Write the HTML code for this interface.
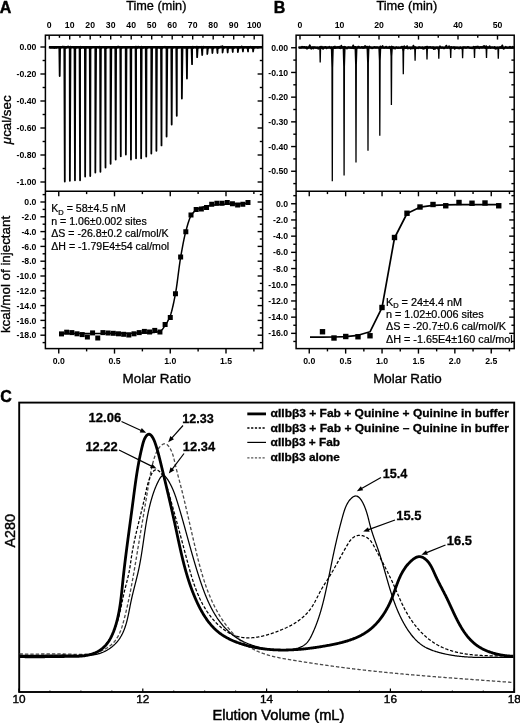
<!DOCTYPE html>
<html><head><meta charset="utf-8"><title>Figure</title>
<style>
html,body{margin:0;padding:0;background:#fff;}
body{width:520px;height:723px;overflow:hidden;}
svg{display:block;font-family:'Liberation Sans', Arial, Helvetica, sans-serif;}
</style></head><body>
<svg width="520" height="723" viewBox="0 0 520 723">
<rect width="520" height="723" fill="#fff"/>
<rect x="45.4" y="35.2" width="217.2" height="313.4" fill="none" stroke="#000" stroke-width="1.5"/>
<line x1="45.4" y1="191.3" x2="262.6" y2="191.3" stroke="#000" stroke-width="1.5" />
<rect x="296.1" y="35.2" width="218.1" height="313.4" fill="none" stroke="#000" stroke-width="1.5"/>
<line x1="296.1" y1="191.3" x2="514.2" y2="191.3" stroke="#000" stroke-width="1.5" />
<line x1="49.2" y1="35.2" x2="49.2" y2="39.6" stroke="#000" stroke-width="1.4" />
<text x="49.2" y="28.3" font-size="8.7" text-anchor="middle" font-weight="bold" >0</text>
<line x1="59.45" y1="35.2" x2="59.45" y2="37.8" stroke="#000" stroke-width="1.4" />
<line x1="69.7" y1="35.2" x2="69.7" y2="39.6" stroke="#000" stroke-width="1.4" />
<text x="69.7" y="28.3" font-size="8.7" text-anchor="middle" font-weight="bold" >10</text>
<line x1="79.95" y1="35.2" x2="79.95" y2="37.8" stroke="#000" stroke-width="1.4" />
<line x1="90.2" y1="35.2" x2="90.2" y2="39.6" stroke="#000" stroke-width="1.4" />
<text x="90.2" y="28.3" font-size="8.7" text-anchor="middle" font-weight="bold" >20</text>
<line x1="100.45" y1="35.2" x2="100.45" y2="37.8" stroke="#000" stroke-width="1.4" />
<line x1="110.7" y1="35.2" x2="110.7" y2="39.6" stroke="#000" stroke-width="1.4" />
<text x="110.7" y="28.3" font-size="8.7" text-anchor="middle" font-weight="bold" >30</text>
<line x1="120.95" y1="35.2" x2="120.95" y2="37.8" stroke="#000" stroke-width="1.4" />
<line x1="131.2" y1="35.2" x2="131.2" y2="39.6" stroke="#000" stroke-width="1.4" />
<text x="131.2" y="28.3" font-size="8.7" text-anchor="middle" font-weight="bold" >40</text>
<line x1="141.45" y1="35.2" x2="141.45" y2="37.8" stroke="#000" stroke-width="1.4" />
<line x1="151.7" y1="35.2" x2="151.7" y2="39.6" stroke="#000" stroke-width="1.4" />
<text x="151.7" y="28.3" font-size="8.7" text-anchor="middle" font-weight="bold" >50</text>
<line x1="161.95" y1="35.2" x2="161.95" y2="37.8" stroke="#000" stroke-width="1.4" />
<line x1="172.2" y1="35.2" x2="172.2" y2="39.6" stroke="#000" stroke-width="1.4" />
<text x="172.2" y="28.3" font-size="8.7" text-anchor="middle" font-weight="bold" >60</text>
<line x1="182.45" y1="35.2" x2="182.45" y2="37.8" stroke="#000" stroke-width="1.4" />
<line x1="192.7" y1="35.2" x2="192.7" y2="39.6" stroke="#000" stroke-width="1.4" />
<text x="192.7" y="28.3" font-size="8.7" text-anchor="middle" font-weight="bold" >70</text>
<line x1="202.95" y1="35.2" x2="202.95" y2="37.8" stroke="#000" stroke-width="1.4" />
<line x1="213.2" y1="35.2" x2="213.2" y2="39.6" stroke="#000" stroke-width="1.4" />
<text x="213.2" y="28.3" font-size="8.7" text-anchor="middle" font-weight="bold" >80</text>
<line x1="223.45" y1="35.2" x2="223.45" y2="37.8" stroke="#000" stroke-width="1.4" />
<line x1="233.7" y1="35.2" x2="233.7" y2="39.6" stroke="#000" stroke-width="1.4" />
<text x="233.7" y="28.3" font-size="8.7" text-anchor="middle" font-weight="bold" >90</text>
<line x1="243.95" y1="35.2" x2="243.95" y2="37.8" stroke="#000" stroke-width="1.4" />
<line x1="254.2" y1="35.2" x2="254.2" y2="39.6" stroke="#000" stroke-width="1.4" />
<text x="254.2" y="28.3" font-size="8.7" text-anchor="middle" font-weight="bold" >100</text>
<line x1="40.4" y1="47" x2="45.4" y2="47" stroke="#000" stroke-width="1.4" />
<line x1="257.6" y1="47" x2="262.6" y2="47" stroke="#000" stroke-width="1.4" />
<text x="36.4" y="50.1" font-size="8.7" text-anchor="end" font-weight="bold" >0.00</text>
<line x1="42.6" y1="60.5" x2="45.4" y2="60.5" stroke="#000" stroke-width="1.4" />
<line x1="259.8" y1="60.5" x2="262.6" y2="60.5" stroke="#000" stroke-width="1.4" />
<line x1="40.4" y1="74" x2="45.4" y2="74" stroke="#000" stroke-width="1.4" />
<line x1="257.6" y1="74" x2="262.6" y2="74" stroke="#000" stroke-width="1.4" />
<text x="36.4" y="77.1" font-size="8.7" text-anchor="end" font-weight="bold" >-0.20</text>
<line x1="42.6" y1="87.5" x2="45.4" y2="87.5" stroke="#000" stroke-width="1.4" />
<line x1="259.8" y1="87.5" x2="262.6" y2="87.5" stroke="#000" stroke-width="1.4" />
<line x1="40.4" y1="101" x2="45.4" y2="101" stroke="#000" stroke-width="1.4" />
<line x1="257.6" y1="101" x2="262.6" y2="101" stroke="#000" stroke-width="1.4" />
<text x="36.4" y="104.1" font-size="8.7" text-anchor="end" font-weight="bold" >-0.40</text>
<line x1="42.6" y1="114.5" x2="45.4" y2="114.5" stroke="#000" stroke-width="1.4" />
<line x1="259.8" y1="114.5" x2="262.6" y2="114.5" stroke="#000" stroke-width="1.4" />
<line x1="40.4" y1="128" x2="45.4" y2="128" stroke="#000" stroke-width="1.4" />
<line x1="257.6" y1="128" x2="262.6" y2="128" stroke="#000" stroke-width="1.4" />
<text x="36.4" y="131.1" font-size="8.7" text-anchor="end" font-weight="bold" >-0.60</text>
<line x1="42.6" y1="141.5" x2="45.4" y2="141.5" stroke="#000" stroke-width="1.4" />
<line x1="259.8" y1="141.5" x2="262.6" y2="141.5" stroke="#000" stroke-width="1.4" />
<line x1="40.4" y1="155" x2="45.4" y2="155" stroke="#000" stroke-width="1.4" />
<line x1="257.6" y1="155" x2="262.6" y2="155" stroke="#000" stroke-width="1.4" />
<text x="36.4" y="158.1" font-size="8.7" text-anchor="end" font-weight="bold" >-0.80</text>
<line x1="42.6" y1="168.5" x2="45.4" y2="168.5" stroke="#000" stroke-width="1.4" />
<line x1="259.8" y1="168.5" x2="262.6" y2="168.5" stroke="#000" stroke-width="1.4" />
<line x1="40.4" y1="182" x2="45.4" y2="182" stroke="#000" stroke-width="1.4" />
<line x1="257.6" y1="182" x2="262.6" y2="182" stroke="#000" stroke-width="1.4" />
<text x="36.4" y="185.1" font-size="8.7" text-anchor="end" font-weight="bold" >-1.00</text>
<line x1="42.6" y1="194.6" x2="45.4" y2="194.6" stroke="#000" stroke-width="1.4" />
<line x1="259.8" y1="194.6" x2="262.6" y2="194.6" stroke="#000" stroke-width="1.4" />
<line x1="40.4" y1="202" x2="45.4" y2="202" stroke="#000" stroke-width="1.4" />
<line x1="257.6" y1="202" x2="262.6" y2="202" stroke="#000" stroke-width="1.4" />
<text x="36.4" y="205.1" font-size="8.7" text-anchor="end" font-weight="bold" >0.0</text>
<line x1="42.6" y1="209.4" x2="45.4" y2="209.4" stroke="#000" stroke-width="1.4" />
<line x1="259.8" y1="209.4" x2="262.6" y2="209.4" stroke="#000" stroke-width="1.4" />
<line x1="40.4" y1="216.8" x2="45.4" y2="216.8" stroke="#000" stroke-width="1.4" />
<line x1="257.6" y1="216.8" x2="262.6" y2="216.8" stroke="#000" stroke-width="1.4" />
<text x="36.4" y="219.9" font-size="8.7" text-anchor="end" font-weight="bold" >-2.0</text>
<line x1="42.6" y1="224.2" x2="45.4" y2="224.2" stroke="#000" stroke-width="1.4" />
<line x1="259.8" y1="224.2" x2="262.6" y2="224.2" stroke="#000" stroke-width="1.4" />
<line x1="40.4" y1="231.6" x2="45.4" y2="231.6" stroke="#000" stroke-width="1.4" />
<line x1="257.6" y1="231.6" x2="262.6" y2="231.6" stroke="#000" stroke-width="1.4" />
<text x="36.4" y="234.7" font-size="8.7" text-anchor="end" font-weight="bold" >-4.0</text>
<line x1="42.6" y1="239" x2="45.4" y2="239" stroke="#000" stroke-width="1.4" />
<line x1="259.8" y1="239" x2="262.6" y2="239" stroke="#000" stroke-width="1.4" />
<line x1="40.4" y1="246.4" x2="45.4" y2="246.4" stroke="#000" stroke-width="1.4" />
<line x1="257.6" y1="246.4" x2="262.6" y2="246.4" stroke="#000" stroke-width="1.4" />
<text x="36.4" y="249.5" font-size="8.7" text-anchor="end" font-weight="bold" >-6.0</text>
<line x1="42.6" y1="253.8" x2="45.4" y2="253.8" stroke="#000" stroke-width="1.4" />
<line x1="259.8" y1="253.8" x2="262.6" y2="253.8" stroke="#000" stroke-width="1.4" />
<line x1="40.4" y1="261.2" x2="45.4" y2="261.2" stroke="#000" stroke-width="1.4" />
<line x1="257.6" y1="261.2" x2="262.6" y2="261.2" stroke="#000" stroke-width="1.4" />
<text x="36.4" y="264.3" font-size="8.7" text-anchor="end" font-weight="bold" >-8.0</text>
<line x1="42.6" y1="268.6" x2="45.4" y2="268.6" stroke="#000" stroke-width="1.4" />
<line x1="259.8" y1="268.6" x2="262.6" y2="268.6" stroke="#000" stroke-width="1.4" />
<line x1="40.4" y1="276" x2="45.4" y2="276" stroke="#000" stroke-width="1.4" />
<line x1="257.6" y1="276" x2="262.6" y2="276" stroke="#000" stroke-width="1.4" />
<text x="36.4" y="279.1" font-size="8.7" text-anchor="end" font-weight="bold" >-10.0</text>
<line x1="42.6" y1="283.4" x2="45.4" y2="283.4" stroke="#000" stroke-width="1.4" />
<line x1="259.8" y1="283.4" x2="262.6" y2="283.4" stroke="#000" stroke-width="1.4" />
<line x1="40.4" y1="290.8" x2="45.4" y2="290.8" stroke="#000" stroke-width="1.4" />
<line x1="257.6" y1="290.8" x2="262.6" y2="290.8" stroke="#000" stroke-width="1.4" />
<text x="36.4" y="293.9" font-size="8.7" text-anchor="end" font-weight="bold" >-12.0</text>
<line x1="42.6" y1="298.2" x2="45.4" y2="298.2" stroke="#000" stroke-width="1.4" />
<line x1="259.8" y1="298.2" x2="262.6" y2="298.2" stroke="#000" stroke-width="1.4" />
<line x1="40.4" y1="305.6" x2="45.4" y2="305.6" stroke="#000" stroke-width="1.4" />
<line x1="257.6" y1="305.6" x2="262.6" y2="305.6" stroke="#000" stroke-width="1.4" />
<text x="36.4" y="308.7" font-size="8.7" text-anchor="end" font-weight="bold" >-14.0</text>
<line x1="42.6" y1="313" x2="45.4" y2="313" stroke="#000" stroke-width="1.4" />
<line x1="259.8" y1="313" x2="262.6" y2="313" stroke="#000" stroke-width="1.4" />
<line x1="40.4" y1="320.4" x2="45.4" y2="320.4" stroke="#000" stroke-width="1.4" />
<line x1="257.6" y1="320.4" x2="262.6" y2="320.4" stroke="#000" stroke-width="1.4" />
<text x="36.4" y="323.5" font-size="8.7" text-anchor="end" font-weight="bold" >-16.0</text>
<line x1="42.6" y1="327.8" x2="45.4" y2="327.8" stroke="#000" stroke-width="1.4" />
<line x1="259.8" y1="327.8" x2="262.6" y2="327.8" stroke="#000" stroke-width="1.4" />
<line x1="40.4" y1="335.2" x2="45.4" y2="335.2" stroke="#000" stroke-width="1.4" />
<line x1="257.6" y1="335.2" x2="262.6" y2="335.2" stroke="#000" stroke-width="1.4" />
<text x="36.4" y="338.3" font-size="8.7" text-anchor="end" font-weight="bold" >-18.0</text>
<line x1="42.6" y1="342.6" x2="45.4" y2="342.6" stroke="#000" stroke-width="1.4" />
<line x1="259.8" y1="342.6" x2="262.6" y2="342.6" stroke="#000" stroke-width="1.4" />
<line x1="58.75" y1="348.6" x2="58.75" y2="353.6" stroke="#000" stroke-width="1.4" />
<line x1="58.75" y1="191.3" x2="58.75" y2="196.3" stroke="#000" stroke-width="1.4" />
<text x="58.75" y="363.6" font-size="8.7" text-anchor="middle" font-weight="bold" >0.0</text>
<line x1="86.62" y1="348.6" x2="86.62" y2="351.4" stroke="#000" stroke-width="1.4" />
<line x1="86.62" y1="191.3" x2="86.62" y2="194.1" stroke="#000" stroke-width="1.4" />
<line x1="114.5" y1="348.6" x2="114.5" y2="353.6" stroke="#000" stroke-width="1.4" />
<line x1="114.5" y1="191.3" x2="114.5" y2="196.3" stroke="#000" stroke-width="1.4" />
<text x="114.5" y="363.6" font-size="8.7" text-anchor="middle" font-weight="bold" >0.5</text>
<line x1="142.38" y1="348.6" x2="142.38" y2="351.4" stroke="#000" stroke-width="1.4" />
<line x1="142.38" y1="191.3" x2="142.38" y2="194.1" stroke="#000" stroke-width="1.4" />
<line x1="170.25" y1="348.6" x2="170.25" y2="353.6" stroke="#000" stroke-width="1.4" />
<line x1="170.25" y1="191.3" x2="170.25" y2="196.3" stroke="#000" stroke-width="1.4" />
<text x="170.25" y="363.6" font-size="8.7" text-anchor="middle" font-weight="bold" >1.0</text>
<line x1="198.12" y1="348.6" x2="198.12" y2="351.4" stroke="#000" stroke-width="1.4" />
<line x1="198.12" y1="191.3" x2="198.12" y2="194.1" stroke="#000" stroke-width="1.4" />
<line x1="226" y1="348.6" x2="226" y2="353.6" stroke="#000" stroke-width="1.4" />
<line x1="226" y1="191.3" x2="226" y2="196.3" stroke="#000" stroke-width="1.4" />
<text x="226" y="363.6" font-size="8.7" text-anchor="middle" font-weight="bold" >1.5</text>
<line x1="253.88" y1="348.6" x2="253.88" y2="351.4" stroke="#000" stroke-width="1.4" />
<line x1="253.88" y1="191.3" x2="253.88" y2="194.1" stroke="#000" stroke-width="1.4" />
<line x1="300" y1="35.2" x2="300" y2="39.6" stroke="#000" stroke-width="1.4" />
<text x="300" y="28.3" font-size="8.7" text-anchor="middle" font-weight="bold" >0</text>
<line x1="319.75" y1="35.2" x2="319.75" y2="37.8" stroke="#000" stroke-width="1.4" />
<line x1="339.5" y1="35.2" x2="339.5" y2="39.6" stroke="#000" stroke-width="1.4" />
<text x="339.5" y="28.3" font-size="8.7" text-anchor="middle" font-weight="bold" >10</text>
<line x1="359.25" y1="35.2" x2="359.25" y2="37.8" stroke="#000" stroke-width="1.4" />
<line x1="379" y1="35.2" x2="379" y2="39.6" stroke="#000" stroke-width="1.4" />
<text x="379" y="28.3" font-size="8.7" text-anchor="middle" font-weight="bold" >20</text>
<line x1="398.75" y1="35.2" x2="398.75" y2="37.8" stroke="#000" stroke-width="1.4" />
<line x1="418.5" y1="35.2" x2="418.5" y2="39.6" stroke="#000" stroke-width="1.4" />
<text x="418.5" y="28.3" font-size="8.7" text-anchor="middle" font-weight="bold" >30</text>
<line x1="438.25" y1="35.2" x2="438.25" y2="37.8" stroke="#000" stroke-width="1.4" />
<line x1="458" y1="35.2" x2="458" y2="39.6" stroke="#000" stroke-width="1.4" />
<text x="458" y="28.3" font-size="8.7" text-anchor="middle" font-weight="bold" >40</text>
<line x1="477.75" y1="35.2" x2="477.75" y2="37.8" stroke="#000" stroke-width="1.4" />
<line x1="497.5" y1="35.2" x2="497.5" y2="39.6" stroke="#000" stroke-width="1.4" />
<text x="497.5" y="28.3" font-size="8.7" text-anchor="middle" font-weight="bold" >50</text>
<line x1="291.1" y1="47.75" x2="296.1" y2="47.75" stroke="#000" stroke-width="1.4" />
<line x1="509.2" y1="47.75" x2="514.2" y2="47.75" stroke="#000" stroke-width="1.4" />
<text x="288.1" y="50.85" font-size="8.7" text-anchor="end" font-weight="bold" >0.00</text>
<line x1="293.3" y1="60.1" x2="296.1" y2="60.1" stroke="#000" stroke-width="1.4" />
<line x1="511.4" y1="60.1" x2="514.2" y2="60.1" stroke="#000" stroke-width="1.4" />
<line x1="291.1" y1="72.45" x2="296.1" y2="72.45" stroke="#000" stroke-width="1.4" />
<line x1="509.2" y1="72.45" x2="514.2" y2="72.45" stroke="#000" stroke-width="1.4" />
<text x="288.1" y="75.55" font-size="8.7" text-anchor="end" font-weight="bold" >-0.10</text>
<line x1="293.3" y1="84.8" x2="296.1" y2="84.8" stroke="#000" stroke-width="1.4" />
<line x1="511.4" y1="84.8" x2="514.2" y2="84.8" stroke="#000" stroke-width="1.4" />
<line x1="291.1" y1="97.15" x2="296.1" y2="97.15" stroke="#000" stroke-width="1.4" />
<line x1="509.2" y1="97.15" x2="514.2" y2="97.15" stroke="#000" stroke-width="1.4" />
<text x="288.1" y="100.25" font-size="8.7" text-anchor="end" font-weight="bold" >-0.20</text>
<line x1="293.3" y1="109.5" x2="296.1" y2="109.5" stroke="#000" stroke-width="1.4" />
<line x1="511.4" y1="109.5" x2="514.2" y2="109.5" stroke="#000" stroke-width="1.4" />
<line x1="291.1" y1="121.85" x2="296.1" y2="121.85" stroke="#000" stroke-width="1.4" />
<line x1="509.2" y1="121.85" x2="514.2" y2="121.85" stroke="#000" stroke-width="1.4" />
<text x="288.1" y="124.95" font-size="8.7" text-anchor="end" font-weight="bold" >-0.30</text>
<line x1="293.3" y1="134.2" x2="296.1" y2="134.2" stroke="#000" stroke-width="1.4" />
<line x1="511.4" y1="134.2" x2="514.2" y2="134.2" stroke="#000" stroke-width="1.4" />
<line x1="291.1" y1="146.55" x2="296.1" y2="146.55" stroke="#000" stroke-width="1.4" />
<line x1="509.2" y1="146.55" x2="514.2" y2="146.55" stroke="#000" stroke-width="1.4" />
<text x="288.1" y="149.65" font-size="8.7" text-anchor="end" font-weight="bold" >-0.40</text>
<line x1="293.3" y1="158.9" x2="296.1" y2="158.9" stroke="#000" stroke-width="1.4" />
<line x1="511.4" y1="158.9" x2="514.2" y2="158.9" stroke="#000" stroke-width="1.4" />
<line x1="291.1" y1="171.25" x2="296.1" y2="171.25" stroke="#000" stroke-width="1.4" />
<line x1="509.2" y1="171.25" x2="514.2" y2="171.25" stroke="#000" stroke-width="1.4" />
<text x="288.1" y="174.35" font-size="8.7" text-anchor="end" font-weight="bold" >-0.50</text>
<line x1="293.3" y1="183.6" x2="296.1" y2="183.6" stroke="#000" stroke-width="1.4" />
<line x1="511.4" y1="183.6" x2="514.2" y2="183.6" stroke="#000" stroke-width="1.4" />
<line x1="293.3" y1="195.65" x2="296.1" y2="195.65" stroke="#000" stroke-width="1.4" />
<line x1="511.4" y1="195.65" x2="514.2" y2="195.65" stroke="#000" stroke-width="1.4" />
<line x1="291.1" y1="203.75" x2="296.1" y2="203.75" stroke="#000" stroke-width="1.4" />
<line x1="509.2" y1="203.75" x2="514.2" y2="203.75" stroke="#000" stroke-width="1.4" />
<text x="288.1" y="206.85" font-size="8.7" text-anchor="end" font-weight="bold" >0.0</text>
<line x1="293.3" y1="211.85" x2="296.1" y2="211.85" stroke="#000" stroke-width="1.4" />
<line x1="511.4" y1="211.85" x2="514.2" y2="211.85" stroke="#000" stroke-width="1.4" />
<line x1="291.1" y1="219.95" x2="296.1" y2="219.95" stroke="#000" stroke-width="1.4" />
<line x1="509.2" y1="219.95" x2="514.2" y2="219.95" stroke="#000" stroke-width="1.4" />
<text x="288.1" y="223.05" font-size="8.7" text-anchor="end" font-weight="bold" >-2.0</text>
<line x1="293.3" y1="228.05" x2="296.1" y2="228.05" stroke="#000" stroke-width="1.4" />
<line x1="511.4" y1="228.05" x2="514.2" y2="228.05" stroke="#000" stroke-width="1.4" />
<line x1="291.1" y1="236.15" x2="296.1" y2="236.15" stroke="#000" stroke-width="1.4" />
<line x1="509.2" y1="236.15" x2="514.2" y2="236.15" stroke="#000" stroke-width="1.4" />
<text x="288.1" y="239.25" font-size="8.7" text-anchor="end" font-weight="bold" >-4.0</text>
<line x1="293.3" y1="244.25" x2="296.1" y2="244.25" stroke="#000" stroke-width="1.4" />
<line x1="511.4" y1="244.25" x2="514.2" y2="244.25" stroke="#000" stroke-width="1.4" />
<line x1="291.1" y1="252.35" x2="296.1" y2="252.35" stroke="#000" stroke-width="1.4" />
<line x1="509.2" y1="252.35" x2="514.2" y2="252.35" stroke="#000" stroke-width="1.4" />
<text x="288.1" y="255.45" font-size="8.7" text-anchor="end" font-weight="bold" >-6.0</text>
<line x1="293.3" y1="260.45" x2="296.1" y2="260.45" stroke="#000" stroke-width="1.4" />
<line x1="511.4" y1="260.45" x2="514.2" y2="260.45" stroke="#000" stroke-width="1.4" />
<line x1="291.1" y1="268.55" x2="296.1" y2="268.55" stroke="#000" stroke-width="1.4" />
<line x1="509.2" y1="268.55" x2="514.2" y2="268.55" stroke="#000" stroke-width="1.4" />
<text x="288.1" y="271.65" font-size="8.7" text-anchor="end" font-weight="bold" >-8.0</text>
<line x1="293.3" y1="276.65" x2="296.1" y2="276.65" stroke="#000" stroke-width="1.4" />
<line x1="511.4" y1="276.65" x2="514.2" y2="276.65" stroke="#000" stroke-width="1.4" />
<line x1="291.1" y1="284.75" x2="296.1" y2="284.75" stroke="#000" stroke-width="1.4" />
<line x1="509.2" y1="284.75" x2="514.2" y2="284.75" stroke="#000" stroke-width="1.4" />
<text x="288.1" y="287.85" font-size="8.7" text-anchor="end" font-weight="bold" >-10.0</text>
<line x1="293.3" y1="292.85" x2="296.1" y2="292.85" stroke="#000" stroke-width="1.4" />
<line x1="511.4" y1="292.85" x2="514.2" y2="292.85" stroke="#000" stroke-width="1.4" />
<line x1="291.1" y1="300.95" x2="296.1" y2="300.95" stroke="#000" stroke-width="1.4" />
<line x1="509.2" y1="300.95" x2="514.2" y2="300.95" stroke="#000" stroke-width="1.4" />
<text x="288.1" y="304.05" font-size="8.7" text-anchor="end" font-weight="bold" >-12.0</text>
<line x1="293.3" y1="309.05" x2="296.1" y2="309.05" stroke="#000" stroke-width="1.4" />
<line x1="511.4" y1="309.05" x2="514.2" y2="309.05" stroke="#000" stroke-width="1.4" />
<line x1="291.1" y1="317.15" x2="296.1" y2="317.15" stroke="#000" stroke-width="1.4" />
<line x1="509.2" y1="317.15" x2="514.2" y2="317.15" stroke="#000" stroke-width="1.4" />
<text x="288.1" y="320.25" font-size="8.7" text-anchor="end" font-weight="bold" >-14.0</text>
<line x1="293.3" y1="325.25" x2="296.1" y2="325.25" stroke="#000" stroke-width="1.4" />
<line x1="511.4" y1="325.25" x2="514.2" y2="325.25" stroke="#000" stroke-width="1.4" />
<line x1="291.1" y1="333.35" x2="296.1" y2="333.35" stroke="#000" stroke-width="1.4" />
<line x1="509.2" y1="333.35" x2="514.2" y2="333.35" stroke="#000" stroke-width="1.4" />
<text x="288.1" y="336.45" font-size="8.7" text-anchor="end" font-weight="bold" >-16.0</text>
<line x1="293.3" y1="341.45" x2="296.1" y2="341.45" stroke="#000" stroke-width="1.4" />
<line x1="511.4" y1="341.45" x2="514.2" y2="341.45" stroke="#000" stroke-width="1.4" />
<line x1="309.25" y1="348.6" x2="309.25" y2="353.6" stroke="#000" stroke-width="1.4" />
<line x1="309.25" y1="191.3" x2="309.25" y2="196.3" stroke="#000" stroke-width="1.4" />
<text x="309.25" y="363.6" font-size="8.7" text-anchor="middle" font-weight="bold" >0.0</text>
<line x1="327.45" y1="348.6" x2="327.45" y2="351.4" stroke="#000" stroke-width="1.4" />
<line x1="327.45" y1="191.3" x2="327.45" y2="194.1" stroke="#000" stroke-width="1.4" />
<line x1="345.65" y1="348.6" x2="345.65" y2="353.6" stroke="#000" stroke-width="1.4" />
<line x1="345.65" y1="191.3" x2="345.65" y2="196.3" stroke="#000" stroke-width="1.4" />
<text x="345.65" y="363.6" font-size="8.7" text-anchor="middle" font-weight="bold" >0.5</text>
<line x1="363.85" y1="348.6" x2="363.85" y2="351.4" stroke="#000" stroke-width="1.4" />
<line x1="363.85" y1="191.3" x2="363.85" y2="194.1" stroke="#000" stroke-width="1.4" />
<line x1="382.05" y1="348.6" x2="382.05" y2="353.6" stroke="#000" stroke-width="1.4" />
<line x1="382.05" y1="191.3" x2="382.05" y2="196.3" stroke="#000" stroke-width="1.4" />
<text x="382.05" y="363.6" font-size="8.7" text-anchor="middle" font-weight="bold" >1.0</text>
<line x1="400.25" y1="348.6" x2="400.25" y2="351.4" stroke="#000" stroke-width="1.4" />
<line x1="400.25" y1="191.3" x2="400.25" y2="194.1" stroke="#000" stroke-width="1.4" />
<line x1="418.45" y1="348.6" x2="418.45" y2="353.6" stroke="#000" stroke-width="1.4" />
<line x1="418.45" y1="191.3" x2="418.45" y2="196.3" stroke="#000" stroke-width="1.4" />
<text x="418.45" y="363.6" font-size="8.7" text-anchor="middle" font-weight="bold" >1.5</text>
<line x1="436.65" y1="348.6" x2="436.65" y2="351.4" stroke="#000" stroke-width="1.4" />
<line x1="436.65" y1="191.3" x2="436.65" y2="194.1" stroke="#000" stroke-width="1.4" />
<line x1="454.85" y1="348.6" x2="454.85" y2="353.6" stroke="#000" stroke-width="1.4" />
<line x1="454.85" y1="191.3" x2="454.85" y2="196.3" stroke="#000" stroke-width="1.4" />
<text x="454.85" y="363.6" font-size="8.7" text-anchor="middle" font-weight="bold" >2.0</text>
<line x1="473.05" y1="348.6" x2="473.05" y2="351.4" stroke="#000" stroke-width="1.4" />
<line x1="473.05" y1="191.3" x2="473.05" y2="194.1" stroke="#000" stroke-width="1.4" />
<line x1="491.25" y1="348.6" x2="491.25" y2="353.6" stroke="#000" stroke-width="1.4" />
<line x1="491.25" y1="191.3" x2="491.25" y2="196.3" stroke="#000" stroke-width="1.4" />
<text x="491.25" y="363.6" font-size="8.7" text-anchor="middle" font-weight="bold" >2.5</text>
<line x1="509.45" y1="348.6" x2="509.45" y2="351.4" stroke="#000" stroke-width="1.4" />
<line x1="509.45" y1="191.3" x2="509.45" y2="194.1" stroke="#000" stroke-width="1.4" />
<text x="156.3" y="10.2" font-size="12.5" text-anchor="middle" font-weight="normal" stroke="#000" stroke-width="0.35" textLength="60.2" lengthAdjust="spacingAndGlyphs">Time (min)</text>
<text x="406.8" y="10.2" font-size="12.5" text-anchor="middle" font-weight="normal" stroke="#000" stroke-width="0.35" textLength="60.8" lengthAdjust="spacingAndGlyphs">Time (min)</text>
<text x="156.8" y="382.8" font-size="13.4" text-anchor="middle" font-weight="normal" stroke="#000" stroke-width="0.35">Molar Ratio</text>
<text x="407.4" y="382.8" font-size="13.4" text-anchor="middle" font-weight="normal" stroke="#000" stroke-width="0.35">Molar Ratio</text>
<text x="-0.2" y="12.7" font-size="16" text-anchor="start" font-weight="bold" stroke="#000" stroke-width="0.45">A</text>
<text x="273.7" y="12.7" font-size="16" text-anchor="start" font-weight="bold" stroke="#000" stroke-width="0.45">B</text>
<text x="0.3" y="402.4" font-size="16" text-anchor="start" font-weight="bold" stroke="#000" stroke-width="0.45">C</text>
<text transform="translate(10.9,119.8) rotate(-90)" font-size="13.3" text-anchor="middle" stroke="#000" stroke-width="0.35"><tspan font-style="italic">&#956;</tspan>cal/sec</text>
<text transform="translate(10.2,274.5) rotate(-90)" font-size="13.35" text-anchor="middle" stroke="#000" stroke-width="0.35">kcal/mol of injectant</text>
<path d="M48.9,47.3 L49.7,47.4 L50.5,47.2 L51.3,46.99 L52.1,47.14 L52.9,46.95 L53.7,47.32 L54.5,47.77 L55.3,47.13 L56.1,47.08 L56.9,47.47 L57.7,47.42 L58.5,47.34 L59.2,47.29 L59.3,46.97 L59.7,76 L60.1,47.54 L60.5,48.3 L60.9,46.83 L61.7,47.14 L62.5,46.63 L63.3,46.85 L64.1,46.66 L64.29,47.23 L64.79,181.5 L64.9,46.86 L65.59,48.3 L65.7,47.39 L66.5,47.35 L67.3,47.23 L68.1,46.42 L68.9,47.11 L69.38,47.33 L69.7,47.28 L69.88,180.75 L70.5,46.76 L70.68,48.3 L71.3,47.13 L72.1,46.96 L72.9,47.02 L73.7,47.67 L74.47,47.29 L74.5,47.02 L74.97,180.25 L75.3,47.61 L75.77,48.3 L76.1,47.1 L76.9,47.26 L77.7,47.34 L78.5,47.32 L79.3,46.87 L79.56,47.32 L80.06,180.25 L80.1,47.78 L80.86,48.3 L80.9,46.76 L81.7,47.6 L82.5,47.34 L83.3,47.08 L84.1,48 L84.65,46.94 L84.9,47.57 L85.15,176.5 L85.7,47.33 L85.95,48.3 L86.5,47.5 L87.3,47.23 L88.1,47.54 L88.9,47.28 L89.7,47.53 L89.74,47.73 L90.24,176 L90.5,47.06 L91.04,48.3 L91.3,47.37 L92.1,47.14 L92.9,47.34 L93.7,46.88 L94.5,47.1 L94.83,47.24 L95.3,47.61 L95.33,172.5 L96.1,47.7 L96.13,48.3 L96.9,46.84 L97.7,47.02 L98.5,47.53 L99.3,46.6 L99.92,47.27 L100.1,47.14 L100.42,171.75 L100.9,47.74 L101.22,48.3 L101.7,47.54 L102.5,47.19 L103.3,47.17 L104.1,47.21 L104.9,47.83 L105.01,47.17 L105.51,167.5 L105.7,47.19 L106.31,48.3 L106.5,47.42 L107.3,47.26 L108.1,47.23 L108.9,46.91 L109.7,47.3 L110.1,47.65 L110.5,47.14 L110.6,163.75 L111.3,47.53 L111.4,48.3 L112.1,47.29 L112.9,47.53 L113.7,47.18 L114.5,47.67 L115.19,47.48 L115.3,47.3 L115.69,159.5 L116.1,46.85 L116.49,48.3 L116.9,47.42 L117.7,46.71 L118.5,46.59 L119.3,47.19 L120.1,46.99 L120.28,47.35 L120.78,156.25 L120.9,48.09 L121.58,48.3 L121.7,47.01 L122.5,47.08 L123.3,47.37 L124.1,47.47 L124.9,47.24 L125.37,47.51 L125.7,47.23 L125.87,154.5 L126.5,47.48 L126.67,48.3 L127.3,46.94 L128.1,47.27 L128.9,47.31 L129.7,46.93 L130.46,47.04 L130.5,47.39 L130.96,159.5 L131.3,47.64 L131.76,48.3 L132.1,47.37 L132.9,47.33 L133.7,47.09 L134.5,47.26 L135.3,46.6 L135.55,46.96 L136.05,158.25 L136.1,47.43 L136.85,48.3 L136.9,46.56 L137.7,47.6 L138.5,46.69 L139.3,47.56 L140.1,47 L140.64,47.34 L140.9,47.57 L141.14,158.25 L141.7,46.76 L141.94,48.3 L142.5,47.74 L143.3,47.8 L144.1,47.28 L144.9,47.2 L145.7,47.24 L145.73,47.01 L146.23,156.5 L146.5,47.68 L147.03,48.3 L147.3,47.11 L148.1,47.28 L148.9,47.02 L149.7,47.08 L150.5,46.85 L150.82,47.68 L151.3,47.25 L151.32,153.6 L152.1,47.64 L152.12,48.3 L152.9,47.3 L153.7,47.06 L154.5,47.19 L155.3,47.1 L155.91,47.19 L156.1,47.3 L156.41,150.8 L156.9,47.2 L157.21,48.3 L157.7,46.82 L158.5,47.02 L159.3,47.88 L160.1,47.07 L160.9,46.93 L161,47.4 L161.5,145.4 L161.7,47.79 L162.3,48.3 L162.5,46.79 L163.3,47.23 L164.1,47.08 L164.9,46.68 L165.7,47.56 L166.09,47.29 L166.5,47.33 L166.59,136.6 L167.3,47.04 L167.39,48.3 L168.1,47.46 L168.9,47.11 L169.7,47.25 L170.5,46.91 L171.18,47.7 L171.3,46.87 L171.68,124.6 L172.1,47.12 L172.48,48.3 L172.9,47.4 L173.7,47.29 L174.5,47.15 L175.3,47.12 L176.1,47.52 L176.27,47.21 L176.77,115.8 L176.9,47.25 L177.57,48.3 L177.7,47.31 L178.5,47.71 L179.3,47.54 L180.1,47.43 L180.9,47.1 L181.36,47.58 L181.7,46.82 L181.86,98.5 L182.5,47.64 L182.66,48.3 L183.3,47.25 L184.1,47.49 L184.9,47.57 L185.7,47.59 L186.45,47.16 L186.5,47.62 L186.95,78.5 L187.3,47.83 L187.75,48.3 L188.1,46.86 L188.9,47.6 L189.7,47.47 L190.5,47.61 L191.3,47.96 L191.54,47.75 L192.04,64.2 L192.1,46.9 L192.84,48.3 L192.9,46.71 L193.7,47.59 L194.5,46.94 L195.3,47.3 L196.1,47.59 L196.63,46.67 L196.9,46.72 L197.13,57.2 L197.7,47.39 L197.93,48.3 L198.5,47.32 L199.3,47.21 L200.1,47.31 L200.9,47 L201.7,46.77 L201.72,47.25 L202.22,55 L202.5,46.96 L203.02,48.3 L203.3,46.72 L204.1,47.48 L204.9,47.28 L205.7,47.44 L206.5,46.95 L206.81,47.1 L207.3,46.95 L207.31,54 L208.1,46.99 L208.11,48.3 L208.9,47.37 L209.7,47.03 L210.5,47.42 L211.3,47.42 L211.9,46.88 L212.1,48.01 L212.4,53 L212.9,47.61 L213.2,48.3 L213.7,47.27 L214.5,47.3 L215.3,46.79 L216.1,47.14 L216.9,47.56 L216.99,47.28 L217.49,53 L217.7,47.33 L218.29,48.3 L218.5,47.2 L219.3,47.7 L220.1,47.29 L220.9,46.53 L221.7,47.06 L222.08,46.71 L222.5,46.16 L222.58,52.5 L223.3,47.11 L223.38,48.3 L224.1,47.77 L224.9,47.32 L225.7,46.89 L226.5,46.97 L227.17,47.35 L227.3,47.7 L227.67,52.5 L228.1,47.32 L228.47,48.3 L228.9,47.28 L229.7,47.31 L230.5,47.58 L231.3,47.49 L232.1,47.38 L232.26,46.99 L232.76,52 L232.9,47.48 L233.56,48.3 L233.7,47.06 L234.5,47.68 L235.3,46.86 L236.1,47.25 L236.9,47.3 L237.35,47.82 L237.7,46.84 L237.85,52 L238.5,47.81 L238.65,48.3 L239.3,47.14 L240.1,47.57 L240.9,47.43 L241.7,46.39 L242.44,47.28 L242.5,47.39 L242.94,51.5 L243.3,47.33 L243.74,48.3 L244.1,46.92 L244.9,47.21 L245.7,47.24 L246.5,47.72 L247.3,47.42 L247.53,47.3 L248.03,51.5 L248.1,47.84 L248.83,48.3 L248.9,47.11 L249.7,47.16 L250.5,46.66 L251.3,47.85 L252.1,47.64 L252.62,47.5 L252.9,47.62 L253.12,51.5 L253.7,47.34 L253.92,48.3 L254.5,47.38 L255.3,47.21 L256.1,47.23 L256.9,47.32 L257.7,47.83 L258.5,47.49 L259.3,47.28 L260.1,47.1 L260.9,47.08 L261.7,47.86" fill="none" stroke="#000" stroke-width="1.8" stroke-linejoin="round" />
<line x1="48.9" y1="47.3" x2="262.6" y2="47.3" stroke="#000" stroke-width="2.4" />
<line x1="50" y1="47.3" x2="57" y2="47.3" stroke="#000" stroke-width="2.6" />
<path d="M298.6,47.88 L299.3,47.41 L300,47.56 L300.7,47.38 L301.4,47.48 L302.1,46.72 L302.8,47.13 L303.5,47.18 L304.2,46.84 L304.9,47.43 L305.6,47.71 L306.3,47.05 L307,48.71 L307.7,47.49 L308.4,47.78 L309.1,46.99 L309.8,45.31 L310.5,47.74 L311.2,48.67 L311.9,47.27 L312.6,47.24 L313.3,48.41 L314,47.08 L314.7,47.32 L315.4,47.49 L316.1,47.76 L316.8,47.58 L317.5,47.55 L318.2,48.63 L318.9,47.63 L319.6,47.81 L320.3,46.83 L321,47.99 L321.7,46.66 L322.4,47.23 L323.1,48.84 L323.8,47.17 L324.5,47.57 L325.2,46.97 L325.9,46.97 L326.6,48.18 L327.3,47.34 L328,47.53 L328.7,47.41 L329.4,46.81 L330.1,47.49 L330.8,48.15 L331.5,47.17 L332.2,47.82 L332.9,48.17 L333.6,46.93 L334.3,48.04 L335,46.56 L335.7,47.93 L336.4,47.39 L337.1,46.98 L337.8,47.5 L338.5,47.24 L339.2,46.68 L339.9,48.14 L340.6,48.19 L341.3,45.77 L342,47.57 L342.7,47.14 L343.4,47.04 L344.1,47.57 L344.8,46.76 L345.5,47.24 L346.2,48.07 L346.9,48.42 L347.6,47.81 L348.3,47.19 L349,47.51 L349.7,47.57 L350.4,47.54 L351.1,48.13 L351.8,47.58 L352.5,47.96 L353.2,45.42 L353.9,48.21 L354.6,47 L355.3,46.98 L356,47.16 L356.7,47.92 L357.4,47.84 L358.1,46.71 L358.8,46.59 L359.5,47.42 L360.2,47.58 L360.9,47.63 L361.6,47.03 L362.3,47.04 L363,48.01 L363.7,47.07 L364.4,47.4 L365.1,46.05 L365.8,47.01 L366.5,47.01 L367.2,46.77 L367.9,48.36 L368.6,47.38 L369.3,46.56 L370,47.58 L370.7,47.55 L371.4,47.56 L372.1,48.31 L372.8,47.52 L373.5,47.56 L374.2,47.19 L374.9,47.03 L375.6,47.54 L376.3,47.5 L377,47.08 L377.7,47.3 L378.4,47.6 L379.1,47.64 L379.8,47.26 L380.5,46.46 L381.2,47.68 L381.9,47.37 L382.6,46.08 L383.3,47.65 L384,47.73 L384.7,47.83 L385.4,47.36 L386.1,46.68 L386.8,47.73 L387.5,47.81 L388.2,47.46 L388.9,47.84 L389.6,46.77 L390.3,48.24 L391,47.73 L391.7,46.49 L392.4,47.81 L393.1,46.89 L393.8,48.3 L394.5,47.75 L395.2,48.48 L395.9,47.47 L396.6,47.22 L397.3,47.82 L398,48.15 L398.7,47.57 L399.4,47.92 L400.1,47.82 L400.8,47.8 L401.5,46.7 L402.2,47.57 L402.9,46.67 L403.6,47.27 L404.3,46.36 L405,48.09 L405.7,47.27 L406.4,48.02 L407.1,46.18 L407.8,48.54 L408.5,47.77 L409.2,48.03 L409.9,47.58 L410.6,48.68 L411.3,47.57 L412,48.34 L412.7,48.41 L413.4,45.73 L414.1,48.17 L414.8,47.1 L415.5,47.24 L416.2,48.17 L416.9,47.87 L417.6,48.17 L418.3,48.2 L419,47.13 L419.7,47.21 L420.4,47.74 L421.1,47.64 L421.8,48.1 L422.5,47.36 L423.2,48.83 L423.9,47.63 L424.6,48.44 L425.3,47.06 L426,47.85 L426.7,46.69 L427.4,46.77 L428.1,47.72 L428.8,47.42 L429.5,47.11 L430.2,47.04 L430.9,47.59 L431.6,47.41 L432.3,47.99 L433,47.03 L433.7,48.99 L434.4,47.54 L435.1,48.73 L435.8,47.4 L436.5,47.87 L437.2,47.32 L437.9,48.54 L438.6,47.98 L439.3,47.2 L440,46.36 L440.7,47.41 L441.4,47.8 L442.1,47.42 L442.8,47.41 L443.5,48.27 L444.2,48.21 L444.9,47.61 L445.6,47.11 L446.3,45.65 L447,47.79 L447.7,47.76 L448.4,47.43 L449.1,46.29 L449.8,47.58 L450.5,48.69 L451.2,46.86 L451.9,47.57 L452.6,47.44 L453.3,47.36 L454,47 L454.7,48.85 L455.4,47.47 L456.1,47.99 L456.8,47.49 L457.5,47.75 L458.2,48.45 L458.9,47.65 L459.6,48.42 L460.3,47.23 L461,47.96 L461.7,48.37 L462.4,48.01 L463.1,47.23 L463.8,47.09 L464.5,47.4 L465.2,47.24 L465.9,47.77 L466.6,47.49 L467.3,47.18 L468,46.93 L468.7,47.25 L469.4,47.57 L470.1,47.98 L470.8,47.8 L471.5,47.95 L472.2,48.28 L472.9,47.82 L473.6,46.8 L474.3,47.46 L475,46.85 L475.7,47.66 L476.4,46.66 L477.1,47.55 L477.8,46.45 L478.5,47.2 L479.2,48.14 L479.9,47.05 L480.6,47.14 L481.3,46.97 L482,47.58 L482.7,47.07 L483.4,46.44 L484.1,46.05 L484.8,46.62 L485.5,48.04 L486.2,46.21 L486.9,47.28 L487.6,47.16 L488.3,47.72 L489,47.34 L489.7,46.22 L490.4,48.02 L491.1,47.55 L491.8,47.25 L492.5,47.45 L493.2,47.66 L493.9,47.77 L494.6,46.99 L495.3,48.75 L496,47.74 L496.7,48.58 L497.4,47.54 L498.1,48.01 L498.8,47.77 L499.5,47.67 L500.2,46.97 L500.9,48.08 L501.6,47.47 L502.3,45.36 L503,48.22 L503.7,48.71 L504.4,48.01 L505.1,47.66 L505.8,46.87 L506.5,47.57 L507.2,47.7 L507.9,47.75 L508.6,47.62 L509.3,47.31 L510,46.78 L510.7,47.64 L511.4,47.35 L512.1,47.5 L512.8,46.84 L513.5,47.25" fill="none" stroke="#000" stroke-width="1.9" stroke-linejoin="round" />
<line x1="298.6" y1="47.6" x2="514.2" y2="47.6" stroke="#000" stroke-width="2.4" />
<path d="M318.7,47.6 L319.25,49.84 L319.4,56.54 L319.55,62.5 L320.85,62.5 L321,56.54 L321.15,49.84 L321.7,47.6 Z" fill="#000"/>
<path d="M330.8,47.6 L331.35,67.65 L331.5,127.79 L331.65,181.25 L332.95,181.25 L333.1,127.79 L333.25,67.65 L333.8,47.6 Z" fill="#000"/>
<path d="M342.6,47.6 L343.15,66.78 L343.3,124.34 L343.45,175.5 L344.75,175.5 L344.9,124.34 L345.05,66.78 L345.6,47.6 Z" fill="#000"/>
<path d="M354.5,47.6 L355.05,64.84 L355.2,116.54 L355.35,162.5 L356.65,162.5 L356.8,116.54 L356.95,64.84 L357.5,47.6 Z" fill="#000"/>
<path d="M366.5,47.6 L367.05,63.07 L367.2,109.49 L367.35,150.75 L368.65,150.75 L368.8,109.49 L368.95,63.07 L369.5,47.6 Z" fill="#000"/>
<path d="M378.3,47.6 L378.85,60.82 L379,100.49 L379.15,135.75 L380.45,135.75 L380.6,100.49 L380.75,60.82 L381.3,47.6 Z" fill="#000"/>
<path d="M389.9,47.6 L390.45,56.21 L390.6,82.04 L390.75,105 L392.05,105 L392.2,82.04 L392.35,56.21 L392.9,47.6 Z" fill="#000"/>
<path d="M401.8,47.6 L402.35,51.6 L402.5,63.59 L402.65,74.25 L403.95,74.25 L404.1,63.59 L404.25,51.6 L404.8,47.6 Z" fill="#000"/>
<path d="M413.6,47.6 L414.15,49.57 L414.3,55.49 L414.45,60.75 L415.75,60.75 L415.9,55.49 L416.05,49.57 L416.6,47.6 Z" fill="#000"/>
<path d="M425.5,47.6 L426.05,49.38 L426.2,54.74 L426.35,59.5 L427.65,59.5 L427.8,54.74 L427.95,49.38 L428.5,47.6 Z" fill="#000"/>
<path d="M437.3,47.6 L437.85,49.27 L438,54.29 L438.15,58.75 L439.45,58.75 L439.6,54.29 L439.75,49.27 L440.3,47.6 Z" fill="#000"/>
<path d="M449.2,47.6 L449.75,49.16 L449.9,53.84 L450.05,58 L451.35,58 L451.5,53.84 L451.65,49.16 L452.2,47.6 Z" fill="#000"/>
<path d="M461.1,47.6 L461.65,49.2 L461.8,53.99 L461.95,58.25 L463.25,58.25 L463.4,53.99 L463.55,49.2 L464.1,47.6 Z" fill="#000"/>
<path d="M473,47.6 L473.55,49.16 L473.7,53.84 L473.85,58 L475.15,58 L475.3,53.84 L475.45,49.16 L476,47.6 Z" fill="#000"/>
<path d="M485,47.6 L485.55,49.16 L485.7,53.84 L485.85,58 L487.15,58 L487.3,53.84 L487.45,49.16 L488,47.6 Z" fill="#000"/>
<path d="M496.8,47.6 L497.35,49.27 L497.5,54.29 L497.65,58.75 L498.95,58.75 L499.1,54.29 L499.25,49.27 L499.8,47.6 Z" fill="#000"/>
<rect x="59" y="331.4" width="5.0" height="5.0" fill="#000"/>
<rect x="64.18" y="329.7" width="5.0" height="5.0" fill="#000"/>
<rect x="69.36" y="330.1" width="5.0" height="5.0" fill="#000"/>
<rect x="74.54" y="331.3" width="5.0" height="5.0" fill="#000"/>
<rect x="79.72" y="332.1" width="5.0" height="5.0" fill="#000"/>
<rect x="84.9" y="334.5" width="5.0" height="5.0" fill="#000"/>
<rect x="90.08" y="330.4" width="5.0" height="5.0" fill="#000"/>
<rect x="95.26" y="335.5" width="5.0" height="5.0" fill="#000"/>
<rect x="100.44" y="330.1" width="5.0" height="5.0" fill="#000"/>
<rect x="105.62" y="330.5" width="5.0" height="5.0" fill="#000"/>
<rect x="110.8" y="330.8" width="5.0" height="5.0" fill="#000"/>
<rect x="115.98" y="331.3" width="5.0" height="5.0" fill="#000"/>
<rect x="121.16" y="331.8" width="5.0" height="5.0" fill="#000"/>
<rect x="126.34" y="332.5" width="5.0" height="5.0" fill="#000"/>
<rect x="131.52" y="331.3" width="5.0" height="5.0" fill="#000"/>
<rect x="136.7" y="330.1" width="5.0" height="5.0" fill="#000"/>
<rect x="141.88" y="328.9" width="5.0" height="5.0" fill="#000"/>
<rect x="147.06" y="329.5" width="5.0" height="5.0" fill="#000"/>
<rect x="152.24" y="327.9" width="5.0" height="5.0" fill="#000"/>
<rect x="157.42" y="329.5" width="5.0" height="5.0" fill="#000"/>
<rect x="162.6" y="322" width="5.0" height="5.0" fill="#000"/>
<rect x="167.78" y="315" width="5.0" height="5.0" fill="#000"/>
<rect x="172.96" y="291.25" width="5.0" height="5.0" fill="#000"/>
<rect x="178.14" y="254.5" width="5.0" height="5.0" fill="#000"/>
<rect x="183.32" y="229.25" width="5.0" height="5.0" fill="#000"/>
<rect x="188.5" y="212.5" width="5.0" height="5.0" fill="#000"/>
<rect x="193.68" y="207" width="5.0" height="5.0" fill="#000"/>
<rect x="198.86" y="206.5" width="5.0" height="5.0" fill="#000"/>
<rect x="204.04" y="205" width="5.0" height="5.0" fill="#000"/>
<rect x="209.22" y="201.75" width="5.0" height="5.0" fill="#000"/>
<rect x="214.4" y="200.75" width="5.0" height="5.0" fill="#000"/>
<rect x="219.58" y="200.75" width="5.0" height="5.0" fill="#000"/>
<rect x="224.76" y="200" width="5.0" height="5.0" fill="#000"/>
<rect x="229.94" y="201.25" width="5.0" height="5.0" fill="#000"/>
<rect x="235.12" y="202.5" width="5.0" height="5.0" fill="#000"/>
<rect x="240.3" y="201.75" width="5.0" height="5.0" fill="#000"/>
<rect x="245.48" y="200" width="5.0" height="5.0" fill="#000"/>
<path d="M60,333.6 L60.5,333.6 L61,333.6 L61.5,333.6 L62,333.6 L62.5,333.59 L63,333.59 L63.5,333.59 L64,333.59 L64.5,333.59 L65,333.59 L65.5,333.59 L66,333.58 L66.5,333.58 L67,333.58 L67.5,333.58 L68,333.58 L68.5,333.58 L69,333.57 L69.5,333.57 L70,333.57 L70.5,333.57 L71,333.57 L71.5,333.57 L72,333.56 L72.5,333.56 L73,333.56 L73.5,333.56 L74,333.55 L74.5,333.55 L75,333.55 L75.5,333.55 L76,333.55 L76.5,333.54 L77,333.54 L77.5,333.54 L78,333.54 L78.5,333.53 L79,333.53 L79.5,333.53 L80,333.53 L80.5,333.52 L81,333.52 L81.5,333.52 L82,333.51 L82.5,333.51 L83,333.51 L83.5,333.51 L84,333.5 L84.5,333.5 L85,333.5 L85.5,333.49 L86,333.49 L86.5,333.49 L87,333.49 L87.5,333.48 L88,333.48 L88.5,333.48 L89,333.47 L89.5,333.47 L90,333.47 L90.5,333.46 L91,333.46 L91.5,333.46 L92,333.45 L92.5,333.45 L93,333.45 L93.5,333.44 L94,333.44 L94.5,333.44 L95,333.43 L95.5,333.43 L96,333.43 L96.5,333.42 L97,333.42 L97.5,333.42 L98,333.41 L98.5,333.41 L99,333.41 L99.5,333.4 L100,333.4 L100.5,333.4 L101,333.39 L101.5,333.39 L102,333.39 L102.5,333.38 L103,333.38 L103.5,333.38 L104,333.37 L104.5,333.37 L105,333.37 L105.5,333.36 L106,333.36 L106.5,333.36 L107,333.36 L107.5,333.35 L108,333.35 L108.5,333.35 L109,333.34 L109.5,333.34 L110,333.34 L110.5,333.33 L111,333.33 L111.5,333.33 L112,333.32 L112.5,333.32 L113,333.32 L113.5,333.32 L114,333.31 L114.5,333.31 L115,333.31 L115.5,333.3 L116,333.3 L116.5,333.3 L117,333.29 L117.5,333.29 L118,333.29 L118.5,333.28 L119,333.28 L119.5,333.27 L120,333.27 L120.5,333.27 L121,333.26 L121.5,333.26 L122,333.25 L122.5,333.25 L123,333.25 L123.5,333.24 L124,333.24 L124.5,333.23 L125,333.23 L125.5,333.22 L126,333.22 L126.5,333.21 L127,333.21 L127.5,333.2 L128,333.2 L128.5,333.19 L129,333.19 L129.5,333.18 L130,333.18 L130.5,333.17 L131,333.16 L131.5,333.16 L132,333.15 L132.5,333.14 L133,333.14 L133.5,333.13 L134,333.12 L134.5,333.12 L135,333.11 L135.5,333.1 L136,333.09 L136.5,333.09 L137,333.08 L137.5,333.07 L138,333.06 L138.5,333.05 L139,333.04 L139.5,333.04 L140,333.03 L140.5,333.02 L141,333.01 L141.5,333 L142,332.99 L142.5,332.98 L143,332.97 L143.5,332.96 L144,332.95 L144.5,332.94 L145,332.92 L145.5,332.91 L146,332.9 L146.5,332.89 L147,332.88 L147.5,332.87 L148,332.85 L148.5,332.84 L149,332.83 L149.5,332.81 L150,332.8 L150.5,332.78 L151,332.76 L151.5,332.73 L152,332.7 L152.5,332.66 L153,332.62 L153.5,332.57 L154,332.51 L154.5,332.45 L155,332.38 L155.5,332.3 L156,332.22 L156.5,332.13 L157,332.03 L157.5,331.93 L158,331.82 L158.5,331.7 L159,331.57 L159.5,331.44 L160,331.3 L160.5,331.09 L161,330.76 L161.5,330.32 L162,329.79 L162.5,329.19 L163,328.53 L163.5,327.83 L164,327.11 L164.5,326.37 L165,325.64 L165.5,324.92 L166,324.17 L166.5,323.38 L167,322.54 L167.5,321.66 L168,320.72 L168.5,319.72 L169,318.65 L169.5,317.5 L170,316.28 L170.5,314.96 L171,313.46 L171.5,311.78 L172,309.93 L172.5,307.93 L173,305.78 L173.5,303.52 L174,301.14 L174.5,298.67 L175,296.12 L175.5,293.5 L176,290.63 L176.5,287.39 L177,283.86 L177.5,280.11 L178,276.25 L178.5,272.35 L179,268.5 L179.5,264.78 L180,261.28 L180.5,258.09 L181,255.17 L181.5,252.31 L182,249.52 L182.5,246.8 L183,244.17 L183.5,241.63 L184,239.2 L184.5,236.89 L185,234.7 L185.5,232.66 L186,230.75 L186.5,228.88 L187,227.05 L187.5,225.27 L188,223.57 L188.5,221.95 L189,220.43 L189.5,219.04 L190,217.8 L190.5,216.71 L191,215.8 L191.5,215.01 L192,214.28 L192.5,213.59 L193,212.96 L193.5,212.38 L194,211.84 L194.5,211.35 L195,210.9 L195.5,210.5 L196,210.13 L196.5,209.81 L197,209.51 L197.5,209.23 L198,208.97 L198.5,208.73 L199,208.51 L199.5,208.3 L200,208.11 L200.5,207.92 L201,207.74 L201.5,207.57 L202,207.4 L202.5,207.24 L203,207.09 L203.5,206.94 L204,206.8 L204.5,206.67 L205,206.54 L205.5,206.42 L206,206.31 L206.5,206.2 L207,206.1 L207.5,205.99 L208,205.89 L208.5,205.8 L209,205.71 L209.5,205.62 L210,205.54 L210.5,205.46 L211,205.39 L211.5,205.32 L212,205.26 L212.5,205.21 L213,205.15 L213.5,205.09 L214,205.04 L214.5,204.98 L215,204.93 L215.5,204.88 L216,204.84 L216.5,204.79 L217,204.74 L217.5,204.7 L218,204.66 L218.5,204.62 L219,204.58 L219.5,204.55 L220,204.51 L220.5,204.48 L221,204.45 L221.5,204.43 L222,204.4 L222.5,204.38 L223,204.35 L223.5,204.33 L224,204.3 L224.5,204.28 L225,204.26 L225.5,204.23 L226,204.21 L226.5,204.19 L227,204.16 L227.5,204.14 L228,204.12 L228.5,204.1 L229,204.07 L229.5,204.05 L230,204.03 L230.5,204.01 L231,203.99 L231.5,203.97 L232,203.95 L232.5,203.93 L233,203.91 L233.5,203.89 L234,203.88 L234.5,203.86 L235,203.84 L235.5,203.82 L236,203.81 L236.5,203.79 L237,203.78 L237.5,203.76 L238,203.75 L238.5,203.73 L239,203.72 L239.5,203.71 L240,203.7 L240.5,203.69 L241,203.68 L241.5,203.67 L242,203.66 L242.5,203.65 L243,203.64 L243.5,203.63 L244,203.63 L244.5,203.62 L245,203.61 L245.5,203.61 L246,203.61 L246.5,203.6 L247,203.6 L247.5,203.6 L248,203.6" fill="none" stroke="#000" stroke-width="1.5" stroke-linejoin="round" />
<rect x="319.8" y="329.05" width="5.4" height="5.4" fill="#000"/>
<rect x="331.3" y="335.3" width="5.4" height="5.4" fill="#000"/>
<rect x="343.05" y="333.8" width="5.4" height="5.4" fill="#000"/>
<rect x="355.3" y="334.05" width="5.4" height="5.4" fill="#000"/>
<rect x="367.3" y="333.05" width="5.4" height="5.4" fill="#000"/>
<rect x="379.3" y="304.8" width="5.4" height="5.4" fill="#000"/>
<rect x="391.8" y="234.8" width="5.4" height="5.4" fill="#000"/>
<rect x="404.3" y="210.55" width="5.4" height="5.4" fill="#000"/>
<rect x="417.3" y="204.3" width="5.4" height="5.4" fill="#000"/>
<rect x="430.3" y="201.8" width="5.4" height="5.4" fill="#000"/>
<rect x="443.05" y="203.05" width="5.4" height="5.4" fill="#000"/>
<rect x="456.3" y="199.8" width="5.4" height="5.4" fill="#000"/>
<rect x="469.3" y="200.55" width="5.4" height="5.4" fill="#000"/>
<rect x="482.3" y="200.3" width="5.4" height="5.4" fill="#000"/>
<rect x="496.05" y="203.05" width="5.4" height="5.4" fill="#000"/>
<path d="M310,337.2 L322.5,337.2 L334,337 L345.75,336.6 L358,335.3 L370,331.8 L382,307.6 L394.5,238 L407,213.5 L420,207.2 L433,205.4 L445.75,204.9 L459,204.7 L472,204.6 L485,204.6 L498.75,204.6" fill="none" stroke="#000" stroke-width="1.7" stroke-linejoin="round" />
<text x="51.3" y="212" font-size="10.58" text-anchor="start" font-weight="normal" stroke="#000" stroke-width="0.22">K<tspan font-size="7.5" dy="2.5">D</tspan><tspan dy="-2.5"> = 58±4.5 nM</tspan></text>
<text x="51.3" y="224.65" font-size="10.58" text-anchor="start" font-weight="normal" stroke="#000" stroke-width="0.22">n = 1.06±0.002 sites</text>
<text x="51.3" y="237.3" font-size="10.58" text-anchor="start" font-weight="normal" stroke="#000" stroke-width="0.22">ΔS = -26.8±0.2 cal/mol/K</text>
<text x="51.3" y="249.95" font-size="10.58" text-anchor="start" font-weight="normal" stroke="#000" stroke-width="0.22">ΔH = -1.79E4±54 cal/mol</text>
<text x="385.9" y="305.6" font-size="10.85" text-anchor="start" font-weight="normal" stroke="#000" stroke-width="0.22">K<tspan font-size="7.5" dy="2.5">D</tspan><tspan dy="-2.5"> = 24±4.4 nM</tspan></text>
<text x="385.9" y="318" font-size="10.85" text-anchor="start" font-weight="normal" stroke="#000" stroke-width="0.22">n = 1.02±0.006 sites</text>
<text x="385.9" y="330.4" font-size="10.85" text-anchor="start" font-weight="normal" stroke="#000" stroke-width="0.22">ΔS = -20.7±0.6 cal/mol/K</text>
<text x="385.9" y="342.8" font-size="10.85" text-anchor="start" font-weight="normal" stroke="#000" stroke-width="0.22">ΔH = -1.65E4±160 cal/mol</text>
<rect x="19.2" y="402.6" width="495" height="289.4" fill="none" stroke="#000" stroke-width="1.9"/>
<line x1="19" y1="692" x2="19" y2="688.6" stroke="#000" stroke-width="1.2" />
<text x="19" y="703.2" font-size="11.8" text-anchor="middle" font-weight="normal" stroke="#000" stroke-width="0.4">10</text>
<line x1="49.95" y1="692" x2="49.95" y2="690.5" stroke="#000" stroke-width="1.0" />
<line x1="80.9" y1="692" x2="80.9" y2="690.5" stroke="#000" stroke-width="1.0" />
<line x1="111.85" y1="692" x2="111.85" y2="690.5" stroke="#000" stroke-width="1.0" />
<line x1="142.8" y1="692" x2="142.8" y2="688.6" stroke="#000" stroke-width="1.2" />
<text x="142.8" y="703.2" font-size="11.8" text-anchor="middle" font-weight="normal" stroke="#000" stroke-width="0.4">12</text>
<line x1="173.75" y1="692" x2="173.75" y2="690.5" stroke="#000" stroke-width="1.0" />
<line x1="204.7" y1="692" x2="204.7" y2="690.5" stroke="#000" stroke-width="1.0" />
<line x1="235.65" y1="692" x2="235.65" y2="690.5" stroke="#000" stroke-width="1.0" />
<line x1="266.6" y1="692" x2="266.6" y2="688.6" stroke="#000" stroke-width="1.2" />
<text x="266.6" y="703.2" font-size="11.8" text-anchor="middle" font-weight="normal" stroke="#000" stroke-width="0.4">14</text>
<line x1="297.55" y1="692" x2="297.55" y2="690.5" stroke="#000" stroke-width="1.0" />
<line x1="328.5" y1="692" x2="328.5" y2="690.5" stroke="#000" stroke-width="1.0" />
<line x1="359.45" y1="692" x2="359.45" y2="690.5" stroke="#000" stroke-width="1.0" />
<line x1="390.4" y1="692" x2="390.4" y2="688.6" stroke="#000" stroke-width="1.2" />
<text x="390.4" y="703.2" font-size="11.8" text-anchor="middle" font-weight="normal" stroke="#000" stroke-width="0.4">16</text>
<line x1="421.35" y1="692" x2="421.35" y2="690.5" stroke="#000" stroke-width="1.0" />
<line x1="452.3" y1="692" x2="452.3" y2="690.5" stroke="#000" stroke-width="1.0" />
<line x1="483.25" y1="692" x2="483.25" y2="690.5" stroke="#000" stroke-width="1.0" />
<line x1="514.2" y1="692" x2="514.2" y2="688.6" stroke="#000" stroke-width="1.2" />
<text x="514.2" y="703.2" font-size="11.8" text-anchor="middle" font-weight="normal" stroke="#000" stroke-width="0.4">18</text>
<text x="212.4" y="720" font-size="14.6" text-anchor="start" font-weight="normal" stroke="#000" stroke-width="0.5" textLength="132.0" lengthAdjust="spacingAndGlyphs">Elution Volume (mL)</text>
<text transform="translate(15.4,530.7) rotate(-90)" font-size="14.5" text-anchor="middle" stroke="#000" stroke-width="0.4" textLength="33.6" lengthAdjust="spacingAndGlyphs">A280</text>
<path d="M19.5,653.94 L20.04,653.95 L20.57,653.97 L21.1,653.98 L21.64,653.99 L22.17,654 L22.71,654.01 L23.24,654.02 L23.77,654.03 L24.31,654.03 L24.84,654.04 L25.37,654.05 L25.91,654.05 L26.44,654.06 L26.97,654.06 L27.51,654.06 L28.04,654.07 L28.58,654.07 L29.11,654.07 L29.64,654.07 L30.18,654.07 L30.71,654.08 L31.24,654.08 L31.78,654.08 L32.31,654.07 L32.84,654.07 L33.38,654.07 L33.91,654.07 L34.45,654.07 L34.98,654.07 L35.51,654.06 L36.05,654.06 L36.58,654.06 L37.11,654.05 L37.65,654.05 L38.18,654.05 L38.71,654.04 L39.25,654.04 L39.78,654.03 L40.32,654.03 L40.85,654.02 L41.38,654.02 L41.92,654.01 L42.45,654.01 L42.99,654 L43.52,654 L44.05,653.99 L44.59,653.99 L45.12,653.99 L45.66,653.98 L46.19,653.98 L46.72,653.97 L47.26,653.97 L47.79,653.96 L48.33,653.96 L48.86,653.96 L49.39,653.95 L49.93,653.95 L50.46,653.95 L51,653.94 L51.53,653.94 L52.07,653.94 L52.6,653.94 L53.13,653.93 L53.67,653.93 L54.2,653.93 L54.74,653.93 L55.27,653.93 L55.81,653.93 L56.34,653.93 L56.88,653.93 L57.41,653.94 L57.94,653.94 L58.48,653.94 L59.01,653.95 L59.55,653.95 L60.08,653.95 L60.62,653.96 L61.15,653.97 L61.69,653.97 L62.22,653.98 L62.76,653.99 L63.29,654 L63.83,654 L64.36,654.01 L64.9,654.03 L65.43,654.04 L65.97,654.05 L66.5,654.06 L67.04,654.08 L67.57,654.09 L68.11,654.11 L68.65,654.13 L69.18,654.14 L69.72,654.16 L70.25,654.18 L70.79,654.2 L71.32,654.21 L71.86,654.23 L72.39,654.25 L72.93,654.27 L73.46,654.29 L74,654.3 L74.53,654.32 L75.07,654.33 L75.6,654.35 L76.13,654.36 L76.67,654.37 L77.2,654.38 L77.73,654.39 L78.27,654.4 L78.8,654.4 L79.33,654.4 L79.86,654.4 L80.4,654.4 L80.93,654.4 L81.46,654.39 L81.99,654.38 L82.52,654.37 L83.05,654.35 L83.58,654.34 L84.11,654.32 L84.63,654.29 L85.16,654.26 L85.69,654.23 L86.21,654.2 L86.74,654.16 L87.27,654.11 L87.79,654.07 L88.31,654.01 L88.84,653.96 L89.36,653.9 L89.88,653.83 L90.4,653.76 L90.92,653.69 L91.44,653.6 L91.96,653.52 L92.48,653.43 L93,653.33 L93.52,653.23 L94.03,653.12 L94.55,653.01 L95.06,652.89 L95.58,652.76 L96.09,652.63 L96.6,652.49 L97.11,652.34 L97.62,652.19 L98.13,652.03 L98.64,651.86 L99.14,651.69 L99.65,651.51 L100.15,651.32 L100.66,651.13 L101.16,650.92 L101.66,650.71 L102.16,650.49 L102.66,650.27 L103.15,650.04 L103.64,649.8 L104.13,649.55 L104.62,649.3 L105.1,649.04 L105.58,648.77 L106.05,648.5 L106.52,648.22 L106.99,647.93 L107.45,647.64 L107.91,647.33 L108.36,647.03 L108.8,646.72 L109.24,646.4 L109.68,646.07 L110.11,645.74 L110.53,645.4 L110.94,645.06 L111.35,644.71 L111.75,644.35 L112.14,643.99 L112.53,643.62 L112.91,643.25 L113.27,642.87 L113.64,642.48 L113.99,642.09 L114.33,641.7 L114.67,641.3 L115,640.89 L115.32,640.48 L115.63,640.06 L115.94,639.64 L116.24,639.22 L116.53,638.79 L116.82,638.35 L117.09,637.91 L117.37,637.47 L117.63,637.02 L117.89,636.57 L118.14,636.12 L118.39,635.66 L118.63,635.19 L118.87,634.73 L119.1,634.26 L119.32,633.78 L119.54,633.31 L119.76,632.83 L119.97,632.35 L120.17,631.86 L120.37,631.37 L120.57,630.88 L120.76,630.39 L120.95,629.89 L121.13,629.39 L121.31,628.89 L121.49,628.39 L121.66,627.88 L121.83,627.38 L121.99,626.87 L122.15,626.36 L122.31,625.84 L122.47,625.33 L122.62,624.82 L122.78,624.3 L122.93,623.78 L123.07,623.26 L123.22,622.74 L123.36,622.22 L123.5,621.7 L123.64,621.18 L123.78,620.66 L123.92,620.14 L124.05,619.61 L124.19,619.09 L124.32,618.57 L124.45,618.05 L124.59,617.52 L124.72,617 L124.85,616.48 L124.98,615.95 L125.11,615.43 L125.24,614.91 L125.36,614.39 L125.49,613.86 L125.62,613.34 L125.74,612.82 L125.87,612.3 L125.99,611.77 L126.12,611.25 L126.24,610.73 L126.36,610.21 L126.49,609.68 L126.61,609.16 L126.73,608.64 L126.85,608.12 L126.97,607.59 L127.09,607.07 L127.2,606.55 L127.32,606.03 L127.44,605.51 L127.56,604.98 L127.67,604.46 L127.79,603.94 L127.9,603.42 L128.02,602.89 L128.13,602.37 L128.24,601.85 L128.35,601.33 L128.47,600.8 L128.58,600.28 L128.69,599.76 L128.8,599.24 L128.91,598.71 L129.02,598.19 L129.13,597.67 L129.23,597.15 L129.34,596.63 L129.45,596.1 L129.56,595.58 L129.66,595.06 L129.77,594.54 L129.87,594.01 L129.98,593.49 L130.08,592.97 L130.19,592.45 L130.29,591.92 L130.39,591.4 L130.49,590.88 L130.6,590.36 L130.7,589.83 L130.8,589.31 L130.9,588.79 L131,588.27 L131.1,587.74 L131.2,587.22 L131.3,586.7 L131.4,586.17 L131.5,585.65 L131.6,585.13 L131.69,584.61 L131.79,584.08 L131.89,583.56 L131.99,583.04 L132.08,582.51 L132.18,581.99 L132.27,581.47 L132.37,580.94 L132.46,580.42 L132.56,579.9 L132.65,579.38 L132.75,578.85 L132.84,578.33 L132.94,577.81 L133.03,577.28 L133.12,576.76 L133.22,576.23 L133.31,575.71 L133.4,575.19 L133.49,574.66 L133.59,574.14 L133.68,573.62 L133.77,573.09 L133.86,572.57 L133.95,572.04 L134.04,571.52 L134.13,571 L134.22,570.47 L134.31,569.95 L134.4,569.42 L134.49,568.9 L134.58,568.38 L134.67,567.85 L134.76,567.33 L134.85,566.8 L134.94,566.28 L135.03,565.75 L135.12,565.23 L135.21,564.7 L135.29,564.18 L135.38,563.65 L135.47,563.13 L135.56,562.6 L135.65,562.08 L135.73,561.55 L135.82,561.03 L135.91,560.5 L136,559.98 L136.09,559.45 L136.17,558.92 L136.26,558.4 L136.35,557.87 L136.44,557.35 L136.52,556.82 L136.61,556.29 L136.7,555.77 L136.79,555.24 L136.87,554.72 L136.96,554.19 L137.05,553.66 L137.13,553.14 L137.22,552.61 L137.31,552.08 L137.4,551.56 L137.48,551.03 L137.57,550.5 L137.66,549.97 L137.75,549.45 L137.83,548.92 L137.92,548.39 L138.01,547.86 L138.1,547.34 L138.18,546.81 L138.27,546.28 L138.36,545.75 L138.45,545.22 L138.54,544.7 L138.62,544.17 L138.71,543.64 L138.8,543.11 L138.89,542.58 L138.98,542.05 L139.07,541.53 L139.15,541 L139.24,540.47 L139.33,539.94 L139.42,539.41 L139.51,538.88 L139.6,538.35 L139.69,537.82 L139.77,537.29 L139.86,536.77 L139.95,536.24 L140.04,535.71 L140.13,535.18 L140.22,534.65 L140.31,534.12 L140.4,533.59 L140.48,533.06 L140.57,532.53 L140.66,532 L140.75,531.47 L140.84,530.94 L140.93,530.41 L141.02,529.88 L141.11,529.35 L141.2,528.83 L141.29,528.3 L141.38,527.77 L141.46,527.24 L141.55,526.71 L141.64,526.18 L141.73,525.65 L141.82,525.12 L141.91,524.59 L142,524.06 L142.09,523.53 L142.18,523 L142.27,522.47 L142.36,521.95 L142.44,521.42 L142.53,520.89 L142.62,520.36 L142.71,519.83 L142.8,519.3 L142.89,518.77 L142.98,518.24 L143.07,517.72 L143.16,517.19 L143.25,516.66 L143.33,516.13 L143.42,515.6 L143.51,515.07 L143.6,514.55 L143.69,514.02 L143.78,513.49 L143.87,512.96 L143.96,512.44 L144.04,511.91 L144.13,511.38 L144.22,510.85 L144.31,510.33 L144.4,509.8 L144.49,509.27 L144.57,508.75 L144.66,508.22 L144.75,507.69 L144.84,507.17 L144.93,506.64 L145.02,506.12 L145.1,505.59 L145.19,505.06 L145.28,504.54 L145.37,504.01 L145.45,503.49 L145.54,502.96 L145.63,502.44 L145.72,501.91 L145.8,501.39 L145.89,500.86 L145.98,500.34 L146.07,499.82 L146.15,499.29 L146.24,498.77 L146.33,498.25 L146.41,497.72 L146.5,497.2 L146.59,496.68 L146.67,496.15 L146.76,495.63 L146.85,495.11 L146.93,494.59 L147.02,494.06 L147.1,493.54 L147.19,493.02 L147.28,492.5 L147.36,491.98 L147.45,491.46 L147.53,490.94 L147.62,490.42 L147.7,489.9 L147.79,489.38 L147.87,488.86 L147.96,488.34 L148.04,487.82 L148.13,487.3 L148.21,486.79 L148.3,486.27 L148.38,485.75 L148.47,485.23 L148.55,484.71 L148.63,484.2 L148.72,483.68 L148.8,483.16 L148.89,482.65 L148.97,482.13 L149.06,481.61 L149.14,481.1 L149.23,480.58 L149.32,480.06 L149.4,479.55 L149.49,479.03 L149.58,478.51 L149.67,477.99 L149.76,477.48 L149.85,476.96 L149.95,476.44 L150.04,475.92 L150.13,475.4 L150.23,474.88 L150.33,474.36 L150.43,473.84 L150.53,473.32 L150.63,472.8 L150.73,472.28 L150.83,471.75 L150.94,471.23 L151.05,470.7 L151.16,470.18 L151.27,469.65 L151.38,469.13 L151.5,468.6 L151.61,468.07 L151.73,467.54 L151.86,467.01 L151.98,466.48 L152.11,465.95 L152.23,465.42 L152.36,464.88 L152.5,464.35 L152.63,463.81 L152.77,463.27 L152.91,462.73 L153.06,462.19 L153.2,461.65 L153.35,461.11 L153.5,460.57 L153.66,460.02 L153.82,459.48 L153.98,458.93 L154.15,458.39 L154.32,457.85 L154.5,457.31 L154.68,456.77 L154.86,456.23 L155.05,455.7 L155.25,455.17 L155.45,454.64 L155.66,454.12 L155.87,453.6 L156.09,453.09 L156.32,452.58 L156.55,452.08 L156.79,451.58 L157.04,451.09 L157.29,450.61 L157.56,450.14 L157.83,449.67 L158.11,449.22 L158.4,448.77 L158.7,448.33 L159,447.9 L159.32,447.48 L159.64,447.07 L159.98,446.68 L160.32,446.29 L160.67,445.93 L161.03,445.58 L161.39,445.26 L161.76,444.96 L162.13,444.69 L162.5,444.45 L162.88,444.24 L163.26,444.06 L163.63,443.93 L164.01,443.83 L164.38,443.77 L164.75,443.77 L165.12,443.8 L165.49,443.88 L165.85,444 L166.21,444.15 L166.56,444.35 L166.91,444.58 L167.25,444.84 L167.59,445.13 L167.92,445.46 L168.25,445.81 L168.57,446.19 L168.89,446.6 L169.2,447.02 L169.5,447.47 L169.8,447.94 L170.09,448.42 L170.37,448.92 L170.64,449.43 L170.91,449.96 L171.16,450.49 L171.41,451.04 L171.65,451.59 L171.88,452.14 L172.11,452.7 L172.32,453.26 L172.52,453.81 L172.71,454.37 L172.9,454.92 L173.07,455.46 L173.23,456.01 L173.39,456.54 L173.54,457.08 L173.68,457.61 L173.82,458.14 L173.95,458.67 L174.07,459.2 L174.2,459.72 L174.32,460.24 L174.43,460.76 L174.55,461.28 L174.66,461.8 L174.78,462.31 L174.9,462.83 L175.01,463.35 L175.13,463.87 L175.25,464.38 L175.37,464.9 L175.49,465.42 L175.62,465.93 L175.74,466.45 L175.86,466.96 L175.99,467.48 L176.12,468 L176.24,468.51 L176.37,469.03 L176.5,469.54 L176.63,470.06 L176.76,470.58 L176.89,471.09 L177.02,471.61 L177.15,472.12 L177.29,472.64 L177.42,473.15 L177.55,473.67 L177.68,474.18 L177.82,474.7 L177.95,475.22 L178.09,475.73 L178.22,476.25 L178.36,476.76 L178.49,477.28 L178.63,477.79 L178.76,478.31 L178.9,478.82 L179.03,479.34 L179.17,479.85 L179.3,480.37 L179.44,480.89 L179.57,481.4 L179.71,481.92 L179.84,482.43 L179.97,482.95 L180.11,483.46 L180.24,483.98 L180.37,484.5 L180.5,485.01 L180.64,485.53 L180.77,486.05 L180.9,486.56 L181.03,487.08 L181.16,487.59 L181.29,488.11 L181.42,488.63 L181.55,489.14 L181.68,489.66 L181.81,490.18 L181.94,490.7 L182.07,491.21 L182.19,491.73 L182.32,492.25 L182.45,492.76 L182.58,493.28 L182.7,493.8 L182.83,494.32 L182.96,494.83 L183.08,495.35 L183.21,495.87 L183.34,496.39 L183.46,496.91 L183.59,497.42 L183.71,497.94 L183.84,498.46 L183.96,498.98 L184.09,499.5 L184.21,500.01 L184.33,500.53 L184.46,501.05 L184.58,501.57 L184.7,502.09 L184.83,502.61 L184.95,503.12 L185.07,503.64 L185.2,504.16 L185.32,504.68 L185.44,505.2 L185.56,505.72 L185.68,506.24 L185.81,506.76 L185.93,507.28 L186.05,507.79 L186.17,508.31 L186.29,508.83 L186.41,509.35 L186.53,509.87 L186.65,510.39 L186.77,510.91 L186.89,511.43 L187.01,511.95 L187.13,512.47 L187.25,512.99 L187.37,513.51 L187.49,514.03 L187.61,514.55 L187.73,515.07 L187.85,515.59 L187.97,516.11 L188.09,516.63 L188.21,517.15 L188.33,517.67 L188.45,518.18 L188.57,518.7 L188.69,519.22 L188.81,519.74 L188.93,520.26 L189.04,520.79 L189.16,521.31 L189.28,521.83 L189.4,522.35 L189.52,522.87 L189.64,523.39 L189.76,523.91 L189.88,524.43 L189.99,524.95 L190.11,525.47 L190.23,525.99 L190.35,526.51 L190.47,527.03 L190.59,527.55 L190.71,528.07 L190.83,528.59 L190.94,529.11 L191.06,529.63 L191.18,530.15 L191.3,530.67 L191.42,531.19 L191.54,531.71 L191.66,532.23 L191.78,532.75 L191.9,533.28 L192.02,533.8 L192.13,534.32 L192.25,534.84 L192.37,535.36 L192.49,535.88 L192.61,536.4 L192.73,536.92 L192.85,537.44 L192.97,537.96 L193.09,538.48 L193.21,539 L193.33,539.52 L193.45,540.05 L193.57,540.57 L193.69,541.09 L193.81,541.61 L193.93,542.13 L194.05,542.65 L194.18,543.17 L194.3,543.69 L194.42,544.21 L194.54,544.73 L194.66,545.25 L194.78,545.78 L194.91,546.3 L195.03,546.82 L195.15,547.34 L195.27,547.86 L195.4,548.38 L195.52,548.9 L195.64,549.42 L195.77,549.94 L195.89,550.46 L196.01,550.98 L196.14,551.5 L196.26,552.03 L196.39,552.55 L196.51,553.07 L196.64,553.59 L196.76,554.11 L196.89,554.63 L197.02,555.15 L197.14,555.67 L197.27,556.19 L197.4,556.71 L197.53,557.23 L197.66,557.75 L197.79,558.26 L197.92,558.78 L198.05,559.3 L198.18,559.82 L198.31,560.34 L198.44,560.86 L198.57,561.38 L198.71,561.9 L198.84,562.41 L198.98,562.93 L199.11,563.45 L199.25,563.97 L199.38,564.48 L199.52,565 L199.66,565.52 L199.8,566.03 L199.94,566.55 L200.07,567.07 L200.22,567.58 L200.36,568.1 L200.5,568.61 L200.64,569.13 L200.78,569.64 L200.93,570.15 L201.07,570.67 L201.22,571.18 L201.37,571.7 L201.51,572.21 L201.66,572.72 L201.81,573.23 L201.96,573.75 L202.11,574.26 L202.27,574.77 L202.42,575.28 L202.57,575.79 L202.73,576.3 L202.88,576.81 L203.04,577.32 L203.2,577.83 L203.36,578.34 L203.52,578.85 L203.68,579.36 L203.84,579.86 L204,580.37 L204.17,580.88 L204.33,581.38 L204.5,581.89 L204.67,582.39 L204.84,582.9 L205.01,583.4 L205.18,583.91 L205.35,584.41 L205.52,584.91 L205.7,585.42 L205.88,585.92 L206.05,586.42 L206.23,586.92 L206.41,587.42 L206.59,587.92 L206.77,588.42 L206.96,588.92 L207.14,589.42 L207.33,589.92 L207.52,590.41 L207.71,590.91 L207.9,591.41 L208.09,591.9 L208.28,592.4 L208.48,592.89 L208.67,593.39 L208.87,593.88 L209.07,594.37 L209.27,594.86 L209.47,595.36 L209.68,595.85 L209.88,596.34 L210.09,596.83 L210.3,597.32 L210.51,597.8 L210.72,598.29 L210.93,598.78 L211.15,599.27 L211.36,599.75 L211.58,600.24 L211.8,600.72 L212.02,601.2 L212.24,601.69 L212.47,602.17 L212.69,602.65 L212.92,603.13 L213.15,603.61 L213.38,604.09 L213.62,604.57 L213.85,605.05 L214.09,605.53 L214.33,606 L214.57,606.48 L214.81,606.95 L215.05,607.43 L215.3,607.9 L215.55,608.37 L215.8,608.84 L216.05,609.32 L216.3,609.79 L216.56,610.25 L216.82,610.72 L217.07,611.19 L217.34,611.66 L217.6,612.12 L217.86,612.59 L218.13,613.05 L218.4,613.52 L218.67,613.98 L218.95,614.44 L219.22,614.9 L219.5,615.36 L219.78,615.82 L220.06,616.28 L220.34,616.73 L220.63,617.19 L220.92,617.64 L221.21,618.1 L221.5,618.55 L221.79,619 L222.09,619.45 L222.39,619.9 L222.69,620.34 L222.99,620.79 L223.29,621.23 L223.6,621.68 L223.91,622.12 L224.22,622.56 L224.53,623 L224.84,623.43 L225.16,623.87 L225.48,624.3 L225.8,624.74 L226.12,625.17 L226.44,625.59 L226.77,626.02 L227.1,626.45 L227.43,626.87 L227.76,627.29 L228.09,627.71 L228.43,628.13 L228.77,628.55 L229.11,628.96 L229.45,629.38 L229.79,629.79 L230.14,630.19 L230.49,630.6 L230.84,631.01 L231.19,631.41 L231.55,631.81 L231.9,632.21 L232.26,632.6 L232.62,633 L232.99,633.39 L233.35,633.78 L233.72,634.16 L234.09,634.55 L234.46,634.93 L234.83,635.31 L235.2,635.69 L235.58,636.06 L235.96,636.44 L236.34,636.81 L236.72,637.17 L237.11,637.54 L237.49,637.9 L237.88,638.26 L238.27,638.62 L238.67,638.97 L239.06,639.33 L239.46,639.67 L239.86,640.02 L240.26,640.36 L240.66,640.71 L241.07,641.04 L241.47,641.38 L241.88,641.71 L242.29,642.04 L242.71,642.36 L243.12,642.69 L243.54,643.01 L243.96,643.32 L244.38,643.64 L244.8,643.95 L245.23,644.26 L245.66,644.56 L246.09,644.86 L246.52,645.16 L246.95,645.45 L247.39,645.75 L247.82,646.03 L248.26,646.32 L248.7,646.6 L249.15,646.88 L249.59,647.15 L250.04,647.42 L250.49,647.69 L250.94,647.95 L251.39,648.21 L251.85,648.47 L252.31,648.72 L252.77,648.97 L253.23,649.22 L253.69,649.46 L254.16,649.7 L254.62,649.93 L255.09,650.16 L255.57,650.39 L256.04,650.61 L256.51,650.83 L256.99,651.05 L257.47,651.26 L257.95,651.47 L258.43,651.68 L258.92,651.88 L259.4,652.08 L259.89,652.27 L260.38,652.47 L260.87,652.66 L261.36,652.85 L261.86,653.03 L262.35,653.21 L262.85,653.39 L263.35,653.56 L263.85,653.74 L264.35,653.9 L264.85,654.07 L265.35,654.24 L265.86,654.4 L266.37,654.56 L266.87,654.71 L267.38,654.87 L267.89,655.02 L268.41,655.17 L268.92,655.31 L269.43,655.46 L269.95,655.6 L270.46,655.74 L270.98,655.87 L271.5,656.01 L272.02,656.14 L272.54,656.27 L273.06,656.4 L273.58,656.53 L274.1,656.65 L274.62,656.78 L275.15,656.9 L275.67,657.02 L276.2,657.14 L276.73,657.25 L277.25,657.37 L277.78,657.48 L278.31,657.59 L278.84,657.7 L279.37,657.81 L279.9,657.91 L280.43,658.02 L280.96,658.12 L281.49,658.23 L282.02,658.33 L282.56,658.43 L283.09,658.53 L283.62,658.62 L284.16,658.72 L284.69,658.82 L285.22,658.91 L285.76,659.01 L286.29,659.1 L286.83,659.19 L287.36,659.28 L287.9,659.37 L288.43,659.46 L288.97,659.55 L289.5,659.64 L290.04,659.73 L290.57,659.82 L291.11,659.91 L291.64,659.99 L292.18,660.08 L292.71,660.17 L293.25,660.25 L293.78,660.34 L294.32,660.42 L294.85,660.51 L295.38,660.59 L295.92,660.68 L296.45,660.76 L296.98,660.85 L297.52,660.93 L298.05,661.02 L298.58,661.1 L299.11,661.19 L299.65,661.27 L300.18,661.35 L300.71,661.44 L301.24,661.52 L301.77,661.61 L302.3,661.69 L302.83,661.77 L303.36,661.85 L303.89,661.94 L304.42,662.02 L304.95,662.1 L305.48,662.19 L306.01,662.27 L306.54,662.35 L307.07,662.43 L307.6,662.51 L308.13,662.59 L308.66,662.68 L309.18,662.76 L309.71,662.84 L310.24,662.92 L310.77,663 L311.3,663.08 L311.82,663.16 L312.35,663.24 L312.88,663.32 L313.41,663.4 L313.93,663.48 L314.46,663.56 L314.99,663.64 L315.52,663.72 L316.04,663.8 L316.57,663.87 L317.1,663.95 L317.62,664.03 L318.15,664.11 L318.68,664.19 L319.2,664.26 L319.73,664.34 L320.25,664.42 L320.78,664.5 L321.31,664.57 L321.83,664.65 L322.36,664.73 L322.89,664.8 L323.41,664.88 L323.94,664.95 L324.46,665.03 L324.99,665.11 L325.52,665.18 L326.04,665.26 L326.57,665.33 L327.09,665.41 L327.62,665.48 L328.15,665.55 L328.67,665.63 L329.2,665.7 L329.72,665.78 L330.25,665.85 L330.78,665.92 L331.3,666 L331.83,666.07 L332.35,666.14 L332.88,666.21 L333.41,666.28 L333.93,666.36 L334.46,666.43 L334.98,666.5 L335.51,666.57 L336.04,666.64 L336.56,666.71 L337.09,666.78 L337.62,666.85 L338.14,666.92 L338.67,666.99 L339.2,667.06 L339.72,667.13 L340.25,667.2 L340.78,667.27 L341.3,667.34 L341.83,667.41 L342.36,667.47 L342.89,667.54 L343.41,667.61 L343.94,667.68 L344.47,667.75 L345,667.81 L345.52,667.88 L346.05,667.95 L346.58,668.01 L347.11,668.08 L347.63,668.14 L348.16,668.21 L348.69,668.28 L349.22,668.34 L349.75,668.41 L350.27,668.47 L350.8,668.54 L351.33,668.6 L351.86,668.67 L352.39,668.73 L352.92,668.79 L353.44,668.86 L353.97,668.92 L354.5,668.98 L355.03,669.05 L355.56,669.11 L356.09,669.17 L356.62,669.24 L357.15,669.3 L357.67,669.36 L358.2,669.42 L358.73,669.48 L359.26,669.54 L359.79,669.61 L360.32,669.67 L360.85,669.73 L361.38,669.79 L361.91,669.85 L362.44,669.91 L362.97,669.97 L363.5,670.03 L364.03,670.09 L364.56,670.15 L365.08,670.21 L365.61,670.27 L366.14,670.33 L366.67,670.39 L367.2,670.44 L367.73,670.5 L368.26,670.56 L368.79,670.62 L369.32,670.68 L369.85,670.74 L370.38,670.79 L370.91,670.85 L371.44,670.91 L371.97,670.96 L372.5,671.02 L373.04,671.08 L373.57,671.14 L374.1,671.19 L374.63,671.25 L375.16,671.3 L375.69,671.36 L376.22,671.42 L376.75,671.47 L377.28,671.53 L377.81,671.58 L378.34,671.64 L378.87,671.69 L379.4,671.75 L379.93,671.8 L380.46,671.85 L381,671.91 L381.53,671.96 L382.06,672.02 L382.59,672.07 L383.12,672.12 L383.65,672.18 L384.18,672.23 L384.71,672.28 L385.24,672.34 L385.78,672.39 L386.31,672.44 L386.84,672.5 L387.37,672.55 L387.9,672.6 L388.43,672.65 L388.96,672.7 L389.5,672.76 L390.03,672.81 L390.56,672.86 L391.09,672.91 L391.62,672.96 L392.15,673.01 L392.69,673.06 L393.22,673.11 L393.75,673.16 L394.28,673.21 L394.81,673.26 L395.34,673.31 L395.88,673.37 L396.41,673.41 L396.94,673.46 L397.47,673.51 L398,673.56 L398.54,673.61 L399.07,673.66 L399.6,673.71 L400.13,673.76 L400.66,673.81 L401.2,673.86 L401.73,673.91 L402.26,673.95 L402.79,674 L403.33,674.05 L403.86,674.1 L404.39,674.15 L404.92,674.2 L405.45,674.24 L405.99,674.29 L406.52,674.34 L407.05,674.39 L407.58,674.43 L408.12,674.48 L408.65,674.53 L409.18,674.57 L409.71,674.62 L410.25,674.67 L410.78,674.71 L411.31,674.76 L411.84,674.81 L412.38,674.85 L412.91,674.9 L413.44,674.94 L413.97,674.99 L414.51,675.04 L415.04,675.08 L415.57,675.13 L416.11,675.17 L416.64,675.22 L417.17,675.26 L417.7,675.31 L418.24,675.35 L418.77,675.4 L419.3,675.44 L419.83,675.49 L420.37,675.53 L420.9,675.58 L421.43,675.62 L421.97,675.66 L422.5,675.71 L423.03,675.75 L423.56,675.8 L424.1,675.84 L424.63,675.88 L425.16,675.93 L425.7,675.97 L426.23,676.01 L426.76,676.06 L427.3,676.1 L427.83,676.14 L428.36,676.19 L428.89,676.23 L429.43,676.27 L429.96,676.32 L430.49,676.36 L431.03,676.4 L431.56,676.44 L432.09,676.49 L432.62,676.53 L433.16,676.57 L433.69,676.61 L434.22,676.66 L434.76,676.7 L435.29,676.74 L435.82,676.78 L436.36,676.82 L436.89,676.87 L437.42,676.91 L437.96,676.95 L438.49,676.99 L439.02,677.03 L439.55,677.07 L440.09,677.12 L440.62,677.16 L441.15,677.2 L441.69,677.24 L442.22,677.28 L442.75,677.32 L443.29,677.36 L443.82,677.4 L444.35,677.45 L444.88,677.49 L445.42,677.53 L445.95,677.57 L446.48,677.61 L447.02,677.65 L447.55,677.69 L448.08,677.73 L448.62,677.77 L449.15,677.81 L449.68,677.85 L450.21,677.89 L450.75,677.93 L451.28,677.97 L451.81,678.01 L452.35,678.05 L452.88,678.09 L453.41,678.13 L453.94,678.17 L454.48,678.21 L455.01,678.25 L455.54,678.29 L456.08,678.33 L456.61,678.37 L457.14,678.41 L457.67,678.45 L458.21,678.49 L458.74,678.53 L459.27,678.57 L459.81,678.61 L460.34,678.65 L460.87,678.69 L461.4,678.72 L461.94,678.76 L462.47,678.8 L463,678.84 L463.53,678.88 L464.07,678.92 L464.6,678.96 L465.13,679 L465.66,679.04 L466.2,679.08 L466.73,679.12 L467.26,679.15 L467.79,679.19 L468.33,679.23 L468.86,679.27 L469.39,679.31 L469.92,679.35 L470.46,679.39 L470.99,679.43 L471.52,679.47 L472.05,679.5 L472.59,679.54 L473.12,679.58 L473.65,679.62 L474.18,679.66 L474.71,679.7 L475.25,679.74 L475.78,679.77 L476.31,679.81 L476.84,679.85 L477.38,679.89 L477.91,679.93 L478.44,679.97 L478.97,680.01 L479.5,680.04 L480.04,680.08 L480.57,680.12 L481.1,680.16 L481.63,680.2 L482.16,680.24 L482.69,680.28 L483.23,680.31 L483.76,680.35 L484.29,680.39 L484.82,680.43 L485.35,680.47 L485.88,680.51 L486.42,680.55 L486.95,680.58 L487.48,680.62 L488.01,680.66 L488.54,680.7 L489.07,680.74 L489.6,680.78 L490.14,680.81 L490.67,680.85 L491.2,680.89 L491.73,680.93 L492.26,680.97 L492.79,681.01 L493.32,681.05 L493.85,681.08 L494.39,681.12 L494.92,681.16 L495.45,681.2 L495.98,681.24 L496.51,681.28 L497.04,681.32 L497.57,681.36 L498.1,681.39 L498.63,681.43 L499.16,681.47 L499.69,681.51 L500.22,681.55 L500.76,681.59 L501.29,681.63 L501.82,681.67 L502.35,681.71 L502.88,681.74 L503.41,681.78 L503.94,681.82 L504.47,681.86 L505,681.9 L505.53,681.94 L506.06,681.98 L506.59,682.02 L507.12,682.06 L507.65,682.1 L508.18,682.14 L508.71,682.17 L509.24,682.21 L509.77,682.25 L510.3,682.29 L510.83,682.33 L511.36,682.37 L511.89,682.41 L512.42,682.45 L512.95,682.49" fill="none" stroke="#4a4a4a" stroke-width="1.3" stroke-linejoin="round" stroke-dasharray="3.4,2" stroke-linecap="butt"/>
<path d="M19.46,655.17 L20.1,655.2 L20.75,655.22 L21.39,655.25 L22.03,655.27 L22.68,655.29 L23.32,655.31 L23.96,655.32 L24.6,655.34 L25.24,655.35 L25.88,655.36 L26.52,655.38 L27.16,655.38 L27.8,655.39 L28.44,655.4 L29.08,655.41 L29.71,655.41 L30.35,655.41 L30.99,655.41 L31.62,655.42 L32.26,655.42 L32.89,655.41 L33.53,655.41 L34.16,655.41 L34.8,655.4 L35.43,655.4 L36.07,655.39 L36.7,655.39 L37.33,655.38 L37.96,655.37 L38.6,655.36 L39.23,655.36 L39.86,655.35 L40.49,655.34 L41.13,655.33 L41.76,655.31 L42.39,655.3 L43.02,655.29 L43.65,655.28 L44.28,655.27 L44.92,655.25 L45.55,655.24 L46.18,655.23 L46.81,655.22 L47.44,655.2 L48.07,655.19 L48.7,655.18 L49.33,655.17 L49.96,655.15 L50.6,655.14 L51.23,655.13 L51.86,655.12 L52.49,655.1 L53.12,655.09 L53.75,655.08 L54.38,655.07 L55.02,655.06 L55.65,655.05 L56.28,655.04 L56.91,655.03 L57.54,655.03 L58.18,655.02 L58.81,655.01 L59.44,655.01 L60.08,655 L60.71,655 L61.35,655 L61.98,654.99 L62.61,654.99 L63.25,654.99 L63.89,654.99 L64.52,654.99 L65.16,655 L65.79,655 L66.43,655.01 L67.07,655.01 L67.71,655.02 L68.34,655.03 L68.98,655.04 L69.62,655.05 L70.26,655.07 L70.9,655.08 L71.54,655.1 L72.18,655.12 L72.83,655.14 L73.47,655.16 L74.11,655.18 L74.76,655.21 L75.4,655.23 L76.04,655.25 L76.69,655.28 L77.33,655.3 L77.97,655.33 L78.62,655.35 L79.26,655.37 L79.91,655.39 L80.55,655.41 L81.19,655.42 L81.84,655.43 L82.48,655.45 L83.12,655.45 L83.76,655.46 L84.4,655.46 L85.04,655.45 L85.68,655.44 L86.32,655.43 L86.96,655.41 L87.59,655.39 L88.23,655.36 L88.86,655.33 L89.49,655.28 L90.12,655.24 L90.75,655.18 L91.38,655.12 L92.01,655.05 L92.63,654.98 L93.26,654.89 L93.88,654.8 L94.5,654.7 L95.12,654.59 L95.73,654.47 L96.35,654.34 L96.96,654.2 L97.57,654.05 L98.18,653.89 L98.78,653.72 L99.39,653.54 L99.99,653.35 L100.59,653.15 L101.18,652.93 L101.77,652.71 L102.36,652.47 L102.95,652.23 L103.53,651.97 L104.1,651.71 L104.68,651.43 L105.25,651.15 L105.81,650.86 L106.37,650.55 L106.93,650.24 L107.48,649.92 L108.02,649.59 L108.56,649.25 L109.1,648.9 L109.62,648.54 L110.15,648.18 L110.66,647.8 L111.17,647.42 L111.67,647.03 L112.17,646.64 L112.66,646.23 L113.14,645.82 L113.62,645.4 L114.09,644.97 L114.55,644.54 L115,644.1 L115.44,643.65 L115.88,643.2 L116.3,642.74 L116.72,642.27 L117.13,641.8 L117.53,641.32 L117.92,640.84 L118.31,640.35 L118.68,639.86 L119.04,639.35 L119.4,638.85 L119.74,638.34 L120.08,637.82 L120.41,637.3 L120.73,636.77 L121.04,636.24 L121.35,635.71 L121.64,635.17 L121.93,634.62 L122.22,634.07 L122.49,633.52 L122.76,632.96 L123.02,632.4 L123.27,631.84 L123.52,631.27 L123.76,630.69 L124,630.12 L124.23,629.54 L124.45,628.95 L124.67,628.36 L124.88,627.77 L125.08,627.18 L125.29,626.58 L125.48,625.98 L125.67,625.38 L125.86,624.78 L126.04,624.17 L126.22,623.56 L126.39,622.95 L126.56,622.33 L126.73,621.71 L126.89,621.09 L127.05,620.47 L127.21,619.85 L127.36,619.22 L127.51,618.6 L127.65,617.97 L127.8,617.34 L127.94,616.71 L128.08,616.07 L128.21,615.44 L128.35,614.81 L128.48,614.17 L128.61,613.53 L128.74,612.9 L128.87,612.26 L129,611.62 L129.13,610.98 L129.25,610.34 L129.38,609.7 L129.5,609.06 L129.63,608.42 L129.75,607.78 L129.88,607.14 L130,606.5 L130.12,605.86 L130.25,605.23 L130.38,604.59 L130.5,603.95 L130.63,603.32 L130.76,602.68 L130.89,602.05 L131.02,601.41 L131.16,600.78 L131.29,600.15 L131.43,599.52 L131.57,598.89 L131.71,598.26 L131.85,597.64 L132,597.01 L132.14,596.39 L132.29,595.76 L132.43,595.14 L132.58,594.52 L132.73,593.9 L132.88,593.28 L133.03,592.66 L133.18,592.04 L133.34,591.42 L133.49,590.81 L133.64,590.19 L133.8,589.57 L133.95,588.96 L134.11,588.34 L134.26,587.73 L134.42,587.12 L134.57,586.5 L134.73,585.89 L134.88,585.28 L135.04,584.66 L135.19,584.05 L135.35,583.44 L135.51,582.83 L135.66,582.22 L135.81,581.61 L135.97,581 L136.12,580.39 L136.28,579.78 L136.43,579.17 L136.58,578.56 L136.73,577.94 L136.88,577.33 L137.03,576.72 L137.18,576.11 L137.32,575.5 L137.47,574.89 L137.61,574.28 L137.76,573.67 L137.9,573.06 L138.04,572.44 L138.18,571.83 L138.32,571.22 L138.45,570.61 L138.59,569.99 L138.72,569.38 L138.85,568.76 L138.98,568.15 L139.11,567.53 L139.23,566.92 L139.36,566.3 L139.48,565.68 L139.6,565.07 L139.72,564.45 L139.84,563.83 L139.96,563.21 L140.07,562.59 L140.18,561.97 L140.3,561.35 L140.41,560.73 L140.52,560.11 L140.63,559.49 L140.73,558.87 L140.84,558.25 L140.95,557.62 L141.05,557 L141.15,556.38 L141.26,555.76 L141.36,555.13 L141.46,554.51 L141.56,553.89 L141.66,553.26 L141.75,552.64 L141.85,552.01 L141.95,551.39 L142.04,550.76 L142.14,550.13 L142.24,549.51 L142.33,548.88 L142.42,548.26 L142.52,547.63 L142.61,547 L142.7,546.38 L142.79,545.75 L142.89,545.12 L142.98,544.49 L143.07,543.87 L143.16,543.24 L143.25,542.61 L143.34,541.98 L143.43,541.35 L143.52,540.73 L143.62,540.1 L143.71,539.47 L143.8,538.84 L143.89,538.21 L143.98,537.58 L144.07,536.95 L144.16,536.33 L144.26,535.7 L144.35,535.07 L144.44,534.44 L144.53,533.81 L144.63,533.18 L144.72,532.55 L144.82,531.92 L144.91,531.29 L145.01,530.66 L145.1,530.04 L145.2,529.41 L145.3,528.78 L145.4,528.15 L145.5,527.52 L145.6,526.89 L145.7,526.26 L145.8,525.63 L145.9,525.01 L146,524.38 L146.11,523.75 L146.22,523.12 L146.32,522.49 L146.43,521.87 L146.54,521.24 L146.65,520.61 L146.76,519.98 L146.88,519.36 L146.99,518.73 L147.11,518.1 L147.22,517.48 L147.34,516.85 L147.46,516.22 L147.58,515.6 L147.71,514.97 L147.83,514.35 L147.96,513.72 L148.09,513.1 L148.22,512.47 L148.35,511.85 L148.48,511.22 L148.62,510.6 L148.75,509.98 L148.89,509.35 L149.03,508.73 L149.18,508.11 L149.32,507.48 L149.47,506.86 L149.62,506.24 L149.77,505.62 L149.92,505 L150.08,504.38 L150.24,503.76 L150.4,503.14 L150.56,502.52 L150.73,501.9 L150.89,501.28 L151.07,500.67 L151.24,500.05 L151.41,499.43 L151.59,498.81 L151.77,498.2 L151.95,497.58 L152.14,496.97 L152.33,496.35 L152.52,495.74 L152.72,495.13 L152.91,494.51 L153.12,493.9 L153.32,493.29 L153.53,492.68 L153.74,492.07 L153.96,491.46 L154.18,490.85 L154.4,490.24 L154.63,489.64 L154.86,489.03 L155.1,488.43 L155.34,487.82 L155.59,487.22 L155.84,486.62 L156.09,486.02 L156.35,485.42 L156.62,484.82 L156.89,484.22 L157.17,483.63 L157.45,483.03 L157.74,482.44 L158.03,481.85 L158.33,481.26 L158.63,480.67 L158.94,480.08 L159.26,479.5 L159.58,478.94 L159.91,478.4 L160.24,477.89 L160.58,477.41 L160.92,476.97 L161.27,476.57 L161.63,476.23 L161.99,475.95 L162.35,475.73 L162.72,475.58 L163.1,475.51 L163.48,475.53 L163.86,475.62 L164.25,475.79 L164.64,476.02 L165.03,476.32 L165.42,476.68 L165.81,477.08 L166.19,477.53 L166.58,478.01 L166.96,478.53 L167.34,479.07 L167.71,479.62 L168.07,480.2 L168.43,480.77 L168.78,481.35 L169.12,481.93 L169.45,482.52 L169.78,483.1 L170.1,483.68 L170.41,484.27 L170.72,484.86 L171.01,485.45 L171.31,486.04 L171.59,486.63 L171.87,487.22 L172.14,487.82 L172.41,488.41 L172.67,489.01 L172.93,489.6 L173.18,490.2 L173.43,490.8 L173.67,491.4 L173.9,492 L174.14,492.6 L174.36,493.2 L174.59,493.8 L174.81,494.41 L175.03,495.01 L175.24,495.61 L175.45,496.22 L175.66,496.82 L175.86,497.43 L176.07,498.04 L176.27,498.64 L176.46,499.25 L176.66,499.86 L176.85,500.47 L177.04,501.07 L177.23,501.68 L177.42,502.29 L177.61,502.9 L177.8,503.51 L177.99,504.11 L178.17,504.72 L178.36,505.33 L178.54,505.94 L178.73,506.55 L178.91,507.16 L179.1,507.77 L179.28,508.38 L179.46,508.99 L179.64,509.59 L179.82,510.2 L180,510.81 L180.18,511.42 L180.36,512.03 L180.54,512.64 L180.72,513.25 L180.89,513.86 L181.07,514.47 L181.25,515.08 L181.42,515.69 L181.6,516.3 L181.77,516.91 L181.95,517.52 L182.12,518.13 L182.3,518.74 L182.47,519.35 L182.64,519.96 L182.81,520.57 L182.99,521.18 L183.16,521.79 L183.33,522.4 L183.5,523.01 L183.67,523.62 L183.84,524.23 L184.01,524.84 L184.18,525.45 L184.35,526.06 L184.52,526.67 L184.69,527.28 L184.86,527.89 L185.03,528.5 L185.2,529.11 L185.37,529.72 L185.54,530.33 L185.71,530.94 L185.87,531.55 L186.04,532.16 L186.21,532.77 L186.38,533.38 L186.55,533.99 L186.71,534.6 L186.88,535.21 L187.05,535.82 L187.22,536.43 L187.38,537.04 L187.55,537.65 L187.72,538.26 L187.89,538.87 L188.06,539.48 L188.22,540.09 L188.39,540.7 L188.56,541.31 L188.73,541.92 L188.9,542.53 L189.06,543.14 L189.23,543.75 L189.4,544.36 L189.57,544.97 L189.74,545.58 L189.91,546.19 L190.08,546.8 L190.25,547.41 L190.42,548.02 L190.59,548.63 L190.76,549.24 L190.93,549.85 L191.1,550.46 L191.27,551.07 L191.44,551.68 L191.61,552.29 L191.79,552.9 L191.96,553.5 L192.13,554.11 L192.3,554.72 L192.48,555.33 L192.65,555.94 L192.83,556.55 L193,557.16 L193.18,557.77 L193.35,558.38 L193.53,558.99 L193.71,559.59 L193.88,560.2 L194.06,560.81 L194.24,561.42 L194.42,562.03 L194.6,562.64 L194.78,563.24 L194.96,563.85 L195.14,564.46 L195.32,565.07 L195.5,565.68 L195.68,566.28 L195.87,566.89 L196.05,567.5 L196.24,568.11 L196.42,568.71 L196.61,569.32 L196.8,569.93 L196.98,570.54 L197.17,571.14 L197.36,571.75 L197.55,572.36 L197.74,572.96 L197.93,573.57 L198.12,574.18 L198.32,574.78 L198.51,575.39 L198.71,576 L198.9,576.6 L199.1,577.21 L199.29,577.81 L199.49,578.42 L199.69,579.03 L199.89,579.63 L200.09,580.24 L200.29,580.84 L200.5,581.45 L200.7,582.05 L200.91,582.66 L201.11,583.26 L201.32,583.87 L201.53,584.47 L201.74,585.07 L201.95,585.68 L202.16,586.28 L202.37,586.88 L202.59,587.49 L202.8,588.09 L203.02,588.69 L203.24,589.29 L203.46,589.89 L203.68,590.49 L203.91,591.09 L204.13,591.68 L204.36,592.28 L204.59,592.88 L204.82,593.47 L205.05,594.07 L205.29,594.66 L205.52,595.25 L205.76,595.85 L206,596.44 L206.24,597.03 L206.49,597.61 L206.73,598.2 L206.98,598.79 L207.23,599.37 L207.49,599.96 L207.74,600.54 L208,601.12 L208.26,601.7 L208.53,602.28 L208.79,602.86 L209.06,603.43 L209.33,604.01 L209.6,604.58 L209.88,605.15 L210.16,605.72 L210.44,606.29 L210.72,606.85 L211.01,607.42 L211.3,607.98 L211.59,608.54 L211.89,609.1 L212.19,609.66 L212.49,610.21 L212.8,610.77 L213.1,611.32 L213.42,611.87 L213.73,612.42 L214.05,612.96 L214.37,613.5 L214.69,614.05 L215.02,614.59 L215.35,615.12 L215.69,615.66 L216.03,616.19 L216.37,616.72 L216.72,617.25 L217.06,617.77 L217.42,618.29 L217.77,618.81 L218.14,619.33 L218.5,619.85 L218.87,620.36 L219.24,620.87 L219.62,621.38 L220,621.88 L220.38,622.39 L220.77,622.88 L221.16,623.38 L221.56,623.88 L221.96,624.37 L222.36,624.85 L222.77,625.34 L223.19,625.82 L223.6,626.3 L224.03,626.77 L224.45,627.24 L224.88,627.71 L225.31,628.18 L225.75,628.64 L226.19,629.09 L226.64,629.54 L227.09,629.99 L227.54,630.44 L228,630.88 L228.46,631.31 L228.93,631.74 L229.4,632.17 L229.87,632.59 L230.35,633.01 L230.83,633.42 L231.32,633.83 L231.8,634.23 L232.3,634.63 L232.79,635.02 L233.3,635.41 L233.8,635.79 L234.31,636.16 L234.82,636.53 L235.34,636.9 L235.86,637.26 L236.38,637.61 L236.91,637.96 L237.44,638.3 L237.97,638.64 L238.51,638.97 L239.05,639.29 L239.6,639.61 L240.15,639.92 L240.7,640.23 L241.25,640.53 L241.81,640.83 L242.37,641.12 L242.94,641.41 L243.5,641.69 L244.07,641.96 L244.65,642.23 L245.22,642.5 L245.8,642.76 L246.38,643.01 L246.96,643.26 L247.55,643.51 L248.14,643.75 L248.73,643.98 L249.32,644.21 L249.92,644.44 L250.51,644.66 L251.11,644.87 L251.71,645.08 L252.32,645.29 L252.92,645.49 L253.53,645.69 L254.14,645.88 L254.75,646.07 L255.36,646.25 L255.97,646.43 L256.58,646.61 L257.2,646.78 L257.82,646.95 L258.43,647.11 L259.05,647.27 L259.67,647.42 L260.3,647.57 L260.92,647.71 L261.54,647.86 L262.17,647.99 L262.79,648.13 L263.42,648.26 L264.04,648.38 L264.67,648.51 L265.3,648.63 L265.92,648.74 L266.55,648.85 L267.18,648.96 L267.81,649.07 L268.44,649.17 L269.06,649.26 L269.69,649.36 L270.32,649.45 L270.95,649.53 L271.58,649.62 L272.21,649.7 L272.84,649.77 L273.47,649.84 L274.1,649.91 L274.72,649.97 L275.35,650.02 L275.98,650.08 L276.61,650.12 L277.24,650.17 L277.87,650.2 L278.5,650.24 L279.13,650.26 L279.76,650.29 L280.39,650.3 L281.03,650.31 L281.66,650.32 L282.29,650.32 L282.92,650.31 L283.55,650.3 L284.18,650.28 L284.82,650.26 L285.45,650.23 L286.08,650.19 L286.71,650.15 L287.35,650.1 L287.98,650.04 L288.61,649.97 L289.25,649.9 L289.88,649.83 L290.51,649.74 L291.15,649.65 L291.78,649.55 L292.42,649.44 L293.05,649.33 L293.69,649.2 L294.32,649.07 L294.95,648.93 L295.58,648.78 L296.2,648.62 L296.82,648.45 L297.44,648.27 L298.05,648.08 L298.66,647.87 L299.26,647.66 L299.85,647.43 L300.43,647.18 L301.01,646.93 L301.57,646.66 L302.13,646.38 L302.68,646.08 L303.21,645.77 L303.74,645.44 L304.25,645.09 L304.75,644.73 L305.23,644.36 L305.71,643.96 L306.16,643.55 L306.6,643.12 L307.03,642.67 L307.44,642.21 L307.84,641.73 L308.22,641.23 L308.59,640.72 L308.95,640.19 L309.29,639.66 L309.63,639.11 L309.95,638.55 L310.27,637.99 L310.58,637.42 L310.88,636.84 L311.18,636.26 L311.47,635.67 L311.75,635.08 L312.03,634.49 L312.31,633.9 L312.58,633.31 L312.85,632.72 L313.12,632.13 L313.38,631.54 L313.64,630.94 L313.9,630.35 L314.15,629.76 L314.41,629.17 L314.65,628.57 L314.9,627.98 L315.14,627.39 L315.38,626.79 L315.62,626.2 L315.85,625.6 L316.08,625.01 L316.31,624.41 L316.54,623.81 L316.76,623.22 L316.98,622.62 L317.2,622.02 L317.42,621.43 L317.63,620.83 L317.84,620.23 L318.05,619.63 L318.25,619.03 L318.46,618.43 L318.66,617.83 L318.86,617.23 L319.05,616.63 L319.25,616.03 L319.44,615.43 L319.63,614.82 L319.82,614.22 L320.01,613.62 L320.19,613.02 L320.37,612.41 L320.55,611.81 L320.73,611.2 L320.91,610.6 L321.08,609.99 L321.25,609.39 L321.43,608.78 L321.6,608.17 L321.76,607.57 L321.93,606.96 L322.09,606.35 L322.26,605.74 L322.42,605.13 L322.58,604.52 L322.74,603.91 L322.9,603.3 L323.05,602.69 L323.21,602.08 L323.36,601.47 L323.51,600.85 L323.66,600.24 L323.81,599.63 L323.96,599.01 L324.11,598.4 L324.26,597.78 L324.4,597.17 L324.55,596.55 L324.69,595.93 L324.84,595.31 L324.98,594.7 L325.12,594.08 L325.26,593.46 L325.4,592.84 L325.54,592.22 L325.68,591.6 L325.82,590.98 L325.95,590.36 L326.09,589.73 L326.23,589.11 L326.36,588.49 L326.5,587.86 L326.63,587.24 L326.77,586.62 L326.9,585.99 L327.03,585.37 L327.17,584.74 L327.3,584.11 L327.43,583.49 L327.56,582.86 L327.7,582.23 L327.83,581.61 L327.96,580.98 L328.09,580.35 L328.22,579.73 L328.35,579.1 L328.48,578.47 L328.61,577.84 L328.74,577.21 L328.86,576.59 L328.99,575.96 L329.12,575.33 L329.25,574.7 L329.38,574.07 L329.51,573.45 L329.63,572.82 L329.76,572.19 L329.89,571.56 L330.02,570.94 L330.14,570.31 L330.27,569.68 L330.4,569.05 L330.52,568.43 L330.65,567.8 L330.78,567.18 L330.91,566.55 L331.03,565.92 L331.16,565.3 L331.29,564.67 L331.41,564.05 L331.54,563.43 L331.67,562.8 L331.8,562.18 L331.92,561.56 L332.05,560.93 L332.18,560.31 L332.31,559.69 L332.44,559.07 L332.57,558.45 L332.69,557.83 L332.82,557.21 L332.95,556.6 L333.08,555.98 L333.21,555.36 L333.34,554.75 L333.47,554.13 L333.6,553.52 L333.73,552.9 L333.87,552.29 L334,551.68 L334.13,551.06 L334.26,550.45 L334.4,549.84 L334.53,549.23 L334.66,548.62 L334.8,548.01 L334.93,547.4 L335.07,546.79 L335.2,546.18 L335.34,545.57 L335.48,544.96 L335.61,544.35 L335.75,543.74 L335.89,543.13 L336.03,542.52 L336.17,541.91 L336.31,541.3 L336.45,540.69 L336.59,540.08 L336.74,539.47 L336.88,538.86 L337.02,538.25 L337.17,537.64 L337.31,537.03 L337.46,536.42 L337.6,535.81 L337.75,535.2 L337.9,534.59 L338.05,533.97 L338.2,533.36 L338.35,532.75 L338.5,532.13 L338.65,531.52 L338.8,530.9 L338.96,530.29 L339.11,529.67 L339.27,529.06 L339.42,528.44 L339.58,527.82 L339.74,527.2 L339.9,526.58 L340.06,525.96 L340.22,525.34 L340.38,524.72 L340.54,524.1 L340.71,523.47 L340.87,522.85 L341.04,522.22 L341.21,521.59 L341.37,520.97 L341.54,520.34 L341.71,519.71 L341.89,519.07 L342.06,518.44 L342.23,517.81 L342.41,517.17 L342.58,516.54 L342.76,515.9 L342.94,515.26 L343.12,514.62 L343.31,513.98 L343.49,513.35 L343.68,512.71 L343.88,512.08 L344.08,511.44 L344.28,510.81 L344.49,510.19 L344.71,509.56 L344.93,508.94 L345.16,508.33 L345.4,507.72 L345.64,507.12 L345.89,506.52 L346.16,505.93 L346.43,505.34 L346.71,504.77 L347,504.2 L347.3,503.64 L347.61,503.09 L347.93,502.55 L348.27,502.01 L348.62,501.49 L348.98,500.98 L349.35,500.48 L349.74,499.99 L350.14,499.52 L350.56,499.06 L350.99,498.61 L351.43,498.19 L351.89,497.79 L352.35,497.41 L352.81,497.08 L353.28,496.78 L353.76,496.52 L354.23,496.31 L354.7,496.15 L355.17,496.04 L355.64,495.99 L356.1,496 L356.55,496.07 L357,496.2 L357.44,496.37 L357.87,496.6 L358.3,496.87 L358.72,497.18 L359.13,497.54 L359.54,497.93 L359.94,498.36 L360.33,498.83 L360.72,499.33 L361.09,499.85 L361.46,500.4 L361.82,500.97 L362.17,501.57 L362.51,502.18 L362.85,502.81 L363.17,503.45 L363.49,504.11 L363.8,504.77 L364.09,505.43 L364.38,506.1 L364.66,506.77 L364.93,507.44 L365.18,508.1 L365.43,508.76 L365.67,509.41 L365.9,510.06 L366.12,510.7 L366.33,511.34 L366.54,511.98 L366.74,512.61 L366.93,513.24 L367.12,513.87 L367.3,514.49 L367.47,515.11 L367.64,515.72 L367.81,516.34 L367.97,516.95 L368.13,517.56 L368.28,518.16 L368.43,518.77 L368.59,519.37 L368.73,519.97 L368.88,520.57 L369.03,521.17 L369.18,521.77 L369.32,522.36 L369.47,522.96 L369.62,523.55 L369.77,524.14 L369.92,524.74 L370.08,525.33 L370.24,525.92 L370.4,526.52 L370.56,527.11 L370.73,527.71 L370.9,528.3 L371.08,528.89 L371.25,529.49 L371.43,530.08 L371.62,530.68 L371.8,531.27 L371.99,531.87 L372.18,532.47 L372.38,533.06 L372.57,533.66 L372.77,534.26 L372.97,534.85 L373.17,535.45 L373.37,536.05 L373.58,536.65 L373.78,537.25 L373.99,537.84 L374.2,538.44 L374.41,539.04 L374.62,539.64 L374.83,540.24 L375.04,540.84 L375.26,541.44 L375.47,542.05 L375.68,542.65 L375.9,543.25 L376.11,543.85 L376.32,544.45 L376.54,545.06 L376.75,545.66 L376.96,546.26 L377.18,546.87 L377.39,547.47 L377.6,548.08 L377.81,548.68 L378.02,549.29 L378.23,549.89 L378.43,550.5 L378.64,551.11 L378.84,551.71 L379.05,552.32 L379.25,552.93 L379.45,553.54 L379.64,554.14 L379.84,554.75 L380.04,555.36 L380.23,555.97 L380.42,556.58 L380.62,557.19 L380.81,557.8 L381,558.41 L381.18,559.02 L381.37,559.63 L381.56,560.24 L381.74,560.85 L381.93,561.47 L382.11,562.08 L382.29,562.69 L382.47,563.3 L382.65,563.91 L382.84,564.53 L383.01,565.14 L383.19,565.75 L383.37,566.36 L383.55,566.97 L383.73,567.59 L383.9,568.2 L384.08,568.81 L384.26,569.43 L384.43,570.04 L384.61,570.65 L384.78,571.26 L384.96,571.88 L385.13,572.49 L385.31,573.1 L385.48,573.71 L385.65,574.32 L385.83,574.94 L386,575.55 L386.18,576.16 L386.35,576.77 L386.52,577.38 L386.7,578 L386.87,578.61 L387.05,579.22 L387.22,579.83 L387.4,580.44 L387.58,581.05 L387.75,581.66 L387.93,582.27 L388.11,582.88 L388.29,583.49 L388.46,584.1 L388.64,584.7 L388.82,585.31 L389,585.92 L389.19,586.53 L389.37,587.14 L389.55,587.74 L389.73,588.35 L389.92,588.95 L390.11,589.56 L390.29,590.17 L390.48,590.77 L390.67,591.37 L390.86,591.98 L391.05,592.58 L391.24,593.18 L391.44,593.79 L391.63,594.39 L391.83,594.99 L392.02,595.59 L392.22,596.19 L392.42,596.79 L392.63,597.39 L392.83,597.99 L393.03,598.58 L393.24,599.18 L393.45,599.78 L393.66,600.37 L393.87,600.97 L394.08,601.56 L394.3,602.15 L394.52,602.75 L394.73,603.34 L394.96,603.93 L395.18,604.52 L395.4,605.11 L395.63,605.7 L395.86,606.29 L396.09,606.87 L396.32,607.46 L396.56,608.05 L396.8,608.63 L397.04,609.22 L397.28,609.8 L397.53,610.38 L397.77,610.96 L398.02,611.54 L398.28,612.12 L398.53,612.7 L398.79,613.28 L399.05,613.86 L399.31,614.43 L399.58,615.01 L399.84,615.58 L400.12,616.15 L400.39,616.72 L400.67,617.29 L400.95,617.86 L401.23,618.43 L401.51,619 L401.8,619.57 L402.09,620.13 L402.39,620.69 L402.69,621.26 L402.99,621.82 L403.29,622.38 L403.6,622.94 L403.91,623.5 L404.23,624.05 L404.55,624.61 L404.87,625.16 L405.19,625.72 L405.52,626.27 L405.85,626.82 L406.19,627.37 L406.53,627.91 L406.87,628.46 L407.22,629 L407.57,629.54 L407.92,630.07 L408.28,630.61 L408.64,631.14 L409.01,631.67 L409.38,632.19 L409.76,632.71 L410.14,633.23 L410.52,633.74 L410.91,634.25 L411.3,634.76 L411.7,635.26 L412.1,635.76 L412.5,636.25 L412.91,636.74 L413.33,637.22 L413.75,637.7 L414.17,638.17 L414.6,638.64 L415.04,639.1 L415.48,639.56 L415.92,640.01 L416.37,640.45 L416.82,640.89 L417.28,641.32 L417.74,641.75 L418.21,642.17 L418.69,642.58 L419.17,642.98 L419.65,643.38 L420.14,643.77 L420.64,644.15 L421.14,644.53 L421.65,644.9 L422.16,645.25 L422.68,645.61 L423.2,645.95 L423.73,646.28 L424.27,646.61 L424.81,646.93 L425.36,647.23 L425.91,647.54 L426.47,647.83 L427.03,648.11 L427.6,648.39 L428.17,648.66 L428.75,648.92 L429.33,649.17 L429.91,649.42 L430.5,649.66 L431.09,649.9 L431.68,650.13 L432.28,650.35 L432.88,650.56 L433.48,650.78 L434.09,650.98 L434.7,651.18 L435.31,651.38 L435.92,651.57 L436.53,651.76 L437.14,651.94 L437.75,652.12 L438.37,652.29 L438.98,652.47 L439.6,652.63 L440.22,652.8 L440.83,652.96 L441.45,653.12 L442.07,653.27 L442.69,653.42 L443.31,653.57 L443.93,653.71 L444.55,653.85 L445.17,653.99 L445.79,654.12 L446.41,654.25 L447.03,654.38 L447.66,654.5 L448.28,654.62 L448.9,654.74 L449.53,654.86 L450.15,654.97 L450.77,655.08 L451.4,655.18 L452.03,655.29 L452.65,655.39 L453.28,655.48 L453.9,655.58 L454.53,655.67 L455.16,655.76 L455.79,655.84 L456.41,655.93 L457.04,656.01 L457.67,656.09 L458.3,656.16 L458.93,656.23 L459.56,656.3 L460.19,656.37 L460.82,656.44 L461.45,656.5 L462.08,656.56 L462.71,656.62 L463.35,656.67 L463.98,656.73 L464.61,656.78 L465.24,656.83 L465.87,656.88 L466.51,656.92 L467.14,656.96 L467.77,657 L468.41,657.04 L469.04,657.08 L469.67,657.11 L470.31,657.15 L470.94,657.18 L471.57,657.2 L472.21,657.23 L472.84,657.26 L473.48,657.28 L474.11,657.3 L474.75,657.32 L475.38,657.34 L476.01,657.36 L476.65,657.37 L477.28,657.38 L477.92,657.4 L478.55,657.41 L479.19,657.42 L479.83,657.42 L480.46,657.43 L481.1,657.44 L481.73,657.44 L482.37,657.44 L483,657.44 L483.64,657.45 L484.27,657.45 L484.91,657.44 L485.55,657.44 L486.18,657.44 L486.82,657.44 L487.45,657.43 L488.09,657.43 L488.72,657.42 L489.36,657.42 L490,657.41 L490.63,657.41 L491.27,657.4 L491.9,657.39 L492.54,657.39 L493.18,657.38 L493.81,657.37 L494.45,657.36 L495.08,657.35 L495.72,657.35 L496.35,657.34 L496.99,657.33 L497.63,657.32 L498.26,657.32 L498.9,657.31 L499.53,657.3 L500.17,657.3 L500.8,657.29 L501.44,657.28 L502.07,657.28 L502.71,657.27 L503.34,657.27 L503.98,657.27 L504.61,657.27 L505.25,657.26 L505.88,657.26 L506.52,657.26 L507.15,657.27 L507.79,657.27 L508.42,657.27 L509.06,657.28 L509.69,657.28 L510.33,657.29 L510.96,657.3 L511.59,657.3 L512.23,657.32 L512.86,657.33 L513.49,657.34" fill="none" stroke="#000" stroke-width="1.25" stroke-linejoin="round"  stroke-linecap="butt"/>
<path d="M19.46,655.87 L20.04,655.87 L20.62,655.88 L21.2,655.88 L21.77,655.89 L22.35,655.89 L22.93,655.89 L23.51,655.9 L24.08,655.9 L24.66,655.9 L25.23,655.9 L25.81,655.91 L26.38,655.91 L26.96,655.91 L27.53,655.91 L28.11,655.91 L28.68,655.91 L29.25,655.91 L29.82,655.91 L30.4,655.91 L30.97,655.91 L31.54,655.91 L32.11,655.9 L32.68,655.9 L33.25,655.9 L33.82,655.9 L34.39,655.9 L34.96,655.89 L35.53,655.89 L36.1,655.89 L36.67,655.88 L37.23,655.88 L37.8,655.88 L38.37,655.87 L38.94,655.87 L39.51,655.86 L40.07,655.86 L40.64,655.85 L41.21,655.85 L41.78,655.84 L42.34,655.84 L42.91,655.83 L43.48,655.83 L44.04,655.82 L44.61,655.82 L45.18,655.81 L45.75,655.81 L46.31,655.8 L46.88,655.79 L47.45,655.79 L48.01,655.78 L48.58,655.78 L49.15,655.77 L49.71,655.76 L50.28,655.76 L50.85,655.75 L51.42,655.74 L51.98,655.74 L52.55,655.73 L53.12,655.73 L53.69,655.72 L54.25,655.71 L54.82,655.71 L55.39,655.7 L55.96,655.69 L56.53,655.69 L57.1,655.68 L57.67,655.68 L58.23,655.67 L58.8,655.66 L59.37,655.66 L59.94,655.65 L60.51,655.65 L61.09,655.64 L61.66,655.64 L62.23,655.63 L62.8,655.63 L63.37,655.62 L63.94,655.62 L64.52,655.61 L65.09,655.61 L65.66,655.6 L66.24,655.6 L66.81,655.6 L67.39,655.59 L67.96,655.59 L68.54,655.58 L69.11,655.58 L69.69,655.58 L70.27,655.58 L70.85,655.57 L71.42,655.57 L72,655.57 L72.58,655.57 L73.16,655.57 L73.74,655.56 L74.32,655.56 L74.9,655.56 L75.49,655.56 L76.07,655.55 L76.65,655.54 L77.23,655.54 L77.81,655.53 L78.39,655.51 L78.96,655.5 L79.54,655.48 L80.12,655.46 L80.69,655.43 L81.27,655.4 L81.84,655.37 L82.41,655.33 L82.98,655.29 L83.55,655.24 L84.12,655.19 L84.68,655.13 L85.25,655.06 L85.81,654.99 L86.37,654.91 L86.92,654.83 L87.48,654.74 L88.03,654.64 L88.57,654.53 L89.12,654.42 L89.66,654.29 L90.2,654.16 L90.74,654.02 L91.27,653.87 L91.8,653.71 L92.32,653.55 L92.84,653.37 L93.36,653.18 L93.88,652.98 L94.39,652.78 L94.89,652.56 L95.39,652.34 L95.89,652.11 L96.39,651.86 L96.88,651.61 L97.36,651.35 L97.84,651.08 L98.32,650.8 L98.79,650.51 L99.25,650.21 L99.71,649.9 L100.17,649.58 L100.62,649.25 L101.06,648.91 L101.5,648.56 L101.94,648.21 L102.37,647.84 L102.79,647.46 L103.21,647.08 L103.62,646.68 L104.03,646.27 L104.43,645.86 L104.83,645.44 L105.21,645.01 L105.6,644.57 L105.98,644.12 L106.35,643.67 L106.72,643.21 L107.08,642.75 L107.43,642.28 L107.78,641.8 L108.13,641.32 L108.46,640.84 L108.8,640.35 L109.12,639.86 L109.44,639.36 L109.76,638.86 L110.07,638.36 L110.37,637.86 L110.67,637.36 L110.96,636.85 L111.25,636.34 L111.53,635.83 L111.81,635.32 L112.08,634.81 L112.35,634.3 L112.61,633.78 L112.87,633.27 L113.12,632.75 L113.36,632.23 L113.6,631.71 L113.84,631.19 L114.07,630.67 L114.3,630.15 L114.53,629.62 L114.75,629.1 L114.96,628.57 L115.17,628.04 L115.38,627.51 L115.58,626.98 L115.78,626.45 L115.98,625.92 L116.17,625.38 L116.36,624.85 L116.54,624.31 L116.72,623.78 L116.9,623.24 L117.07,622.7 L117.25,622.16 L117.41,621.62 L117.58,621.08 L117.74,620.54 L117.9,619.99 L118.06,619.45 L118.21,618.91 L118.36,618.36 L118.51,617.82 L118.66,617.27 L118.8,616.72 L118.95,616.18 L119.09,615.63 L119.22,615.08 L119.36,614.53 L119.49,613.98 L119.63,613.43 L119.76,612.88 L119.89,612.32 L120.01,611.77 L120.14,611.22 L120.27,610.67 L120.39,610.11 L120.51,609.56 L120.63,609 L120.75,608.45 L120.87,607.89 L120.99,607.34 L121.11,606.78 L121.23,606.23 L121.34,605.67 L121.46,605.11 L121.57,604.56 L121.69,604 L121.8,603.44 L121.92,602.89 L122.03,602.33 L122.15,601.77 L122.26,601.22 L122.38,600.66 L122.5,600.1 L122.61,599.54 L122.73,598.99 L122.85,598.43 L122.96,597.87 L123.08,597.32 L123.2,596.76 L123.32,596.2 L123.44,595.64 L123.56,595.09 L123.69,594.53 L123.81,593.98 L123.94,593.42 L124.07,592.86 L124.19,592.31 L124.32,591.75 L124.46,591.2 L124.59,590.64 L124.73,590.09 L124.86,589.54 L125,588.98 L125.14,588.43 L125.28,587.88 L125.41,587.32 L125.55,586.77 L125.7,586.22 L125.84,585.66 L125.98,585.11 L126.12,584.56 L126.26,584 L126.4,583.45 L126.54,582.9 L126.68,582.35 L126.82,581.79 L126.96,581.24 L127.1,580.69 L127.24,580.13 L127.38,579.58 L127.52,579.02 L127.65,578.47 L127.78,577.92 L127.92,577.36 L128.05,576.81 L128.18,576.25 L128.31,575.7 L128.43,575.14 L128.56,574.58 L128.68,574.03 L128.8,573.47 L128.92,572.91 L129.03,572.36 L129.14,571.8 L129.25,571.24 L129.36,570.68 L129.46,570.12 L129.57,569.56 L129.66,569 L129.76,568.44 L129.85,567.87 L129.94,567.31 L130.03,566.75 L130.12,566.18 L130.2,565.62 L130.28,565.06 L130.37,564.49 L130.45,563.93 L130.53,563.36 L130.61,562.8 L130.68,562.23 L130.76,561.67 L130.84,561.1 L130.92,560.54 L131,559.97 L131.08,559.41 L131.16,558.84 L131.24,558.28 L131.33,557.71 L131.41,557.15 L131.5,556.59 L131.59,556.02 L131.68,555.46 L131.77,554.9 L131.86,554.33 L131.95,553.77 L132.05,553.21 L132.14,552.65 L132.24,552.08 L132.34,551.52 L132.44,550.96 L132.54,550.4 L132.64,549.84 L132.74,549.28 L132.85,548.72 L132.95,548.16 L133.06,547.6 L133.17,547.03 L133.28,546.47 L133.39,545.92 L133.5,545.36 L133.61,544.8 L133.72,544.24 L133.84,543.68 L133.95,543.12 L134.07,542.56 L134.18,542 L134.3,541.44 L134.42,540.88 L134.54,540.33 L134.66,539.77 L134.78,539.21 L134.9,538.65 L135.03,538.1 L135.15,537.54 L135.27,536.98 L135.4,536.42 L135.52,535.87 L135.65,535.31 L135.77,534.75 L135.9,534.2 L136.03,533.64 L136.16,533.09 L136.29,532.53 L136.42,531.97 L136.55,531.42 L136.68,530.86 L136.81,530.31 L136.94,529.75 L137.07,529.19 L137.2,528.64 L137.34,528.08 L137.47,527.53 L137.6,526.97 L137.74,526.42 L137.87,525.86 L138.01,525.31 L138.14,524.75 L138.27,524.2 L138.41,523.65 L138.55,523.09 L138.68,522.54 L138.82,521.98 L138.95,521.43 L139.09,520.87 L139.22,520.32 L139.36,519.77 L139.5,519.21 L139.63,518.66 L139.77,518.1 L139.91,517.55 L140.04,517 L140.18,516.44 L140.31,515.89 L140.45,515.34 L140.59,514.78 L140.72,514.23 L140.86,513.67 L141,513.12 L141.13,512.57 L141.27,512.01 L141.4,511.46 L141.54,510.91 L141.67,510.35 L141.81,509.8 L141.94,509.25 L142.07,508.69 L142.21,508.14 L142.34,507.59 L142.47,507.03 L142.6,506.48 L142.74,505.93 L142.87,505.37 L143,504.82 L143.13,504.27 L143.26,503.71 L143.39,503.16 L143.52,502.61 L143.65,502.05 L143.77,501.5 L143.9,500.95 L144.03,500.39 L144.15,499.84 L144.28,499.29 L144.4,498.73 L144.53,498.18 L144.65,497.62 L144.77,497.07 L144.9,496.52 L145.02,495.96 L145.14,495.41 L145.26,494.85 L145.38,494.3 L145.49,493.75 L145.61,493.19 L145.73,492.64 L145.85,492.08 L145.97,491.53 L146.09,490.97 L146.21,490.42 L146.33,489.86 L146.46,489.3 L146.58,488.75 L146.71,488.19 L146.84,487.63 L146.97,487.08 L147.11,486.52 L147.25,485.96 L147.4,485.4 L147.54,484.84 L147.7,484.28 L147.85,483.72 L148.01,483.16 L148.18,482.59 L148.35,482.03 L148.53,481.47 L148.71,480.9 L148.9,480.34 L149.09,479.77 L149.29,479.2 L149.5,478.64 L149.72,478.07 L149.94,477.5 L150.17,476.93 L150.41,476.36 L150.65,475.79 L150.91,475.23 L151.17,474.69 L151.44,474.15 L151.72,473.64 L152.01,473.14 L152.3,472.66 L152.6,472.22 L152.91,471.8 L153.24,471.41 L153.56,471.05 L153.9,470.74 L154.25,470.46 L154.6,470.23 L154.97,470.05 L155.34,469.92 L155.72,469.84 L156.12,469.82 L156.52,469.85 L156.92,469.94 L157.34,470.08 L157.75,470.27 L158.17,470.5 L158.58,470.77 L158.99,471.08 L159.4,471.43 L159.8,471.8 L160.19,472.21 L160.57,472.63 L160.94,473.08 L161.3,473.55 L161.64,474.03 L161.97,474.53 L162.28,475.04 L162.59,475.57 L162.88,476.1 L163.17,476.65 L163.44,477.21 L163.71,477.78 L163.96,478.35 L164.21,478.94 L164.45,479.52 L164.68,480.11 L164.9,480.7 L165.12,481.29 L165.33,481.89 L165.53,482.48 L165.73,483.06 L165.92,483.65 L166.11,484.23 L166.29,484.8 L166.47,485.37 L166.65,485.94 L166.82,486.5 L166.99,487.06 L167.16,487.61 L167.33,488.16 L167.49,488.71 L167.65,489.26 L167.81,489.8 L167.97,490.34 L168.12,490.89 L168.28,491.43 L168.43,491.97 L168.59,492.51 L168.75,493.05 L168.9,493.6 L169.06,494.14 L169.21,494.68 L169.37,495.22 L169.52,495.77 L169.68,496.31 L169.83,496.85 L169.98,497.4 L170.14,497.94 L170.29,498.48 L170.45,499.03 L170.6,499.57 L170.75,500.11 L170.91,500.66 L171.06,501.2 L171.21,501.75 L171.37,502.29 L171.52,502.83 L171.67,503.38 L171.83,503.92 L171.98,504.47 L172.13,505.01 L172.28,505.56 L172.43,506.1 L172.59,506.65 L172.74,507.19 L172.89,507.74 L173.04,508.28 L173.19,508.83 L173.35,509.38 L173.5,509.92 L173.65,510.47 L173.8,511.01 L173.95,511.56 L174.1,512.11 L174.25,512.65 L174.4,513.2 L174.55,513.75 L174.7,514.29 L174.85,514.84 L175,515.39 L175.15,515.94 L175.3,516.48 L175.45,517.03 L175.6,517.58 L175.75,518.13 L175.9,518.67 L176.05,519.22 L176.2,519.77 L176.35,520.32 L176.5,520.87 L176.65,521.41 L176.8,521.96 L176.95,522.51 L177.1,523.06 L177.25,523.61 L177.4,524.16 L177.55,524.71 L177.69,525.25 L177.84,525.8 L177.99,526.35 L178.14,526.9 L178.29,527.45 L178.44,528 L178.59,528.55 L178.73,529.1 L178.88,529.65 L179.03,530.2 L179.18,530.75 L179.33,531.3 L179.48,531.85 L179.62,532.4 L179.77,532.95 L179.92,533.5 L180.07,534.05 L180.22,534.6 L180.36,535.16 L180.51,535.71 L180.66,536.26 L180.81,536.81 L180.95,537.36 L181.1,537.91 L181.25,538.46 L181.4,539.01 L181.54,539.57 L181.69,540.12 L181.84,540.67 L181.99,541.22 L182.13,541.77 L182.28,542.33 L182.43,542.88 L182.58,543.43 L182.72,543.98 L182.87,544.54 L183.02,545.09 L183.17,545.64 L183.31,546.19 L183.46,546.75 L183.61,547.3 L183.75,547.85 L183.9,548.41 L184.05,548.96 L184.2,549.51 L184.34,550.06 L184.49,550.62 L184.64,551.17 L184.79,551.73 L184.93,552.28 L185.08,552.83 L185.23,553.39 L185.37,553.94 L185.52,554.5 L185.67,555.05 L185.82,555.6 L185.96,556.16 L186.11,556.71 L186.26,557.27 L186.41,557.82 L186.55,558.38 L186.7,558.93 L186.85,559.49 L187,560.04 L187.14,560.59 L187.29,561.15 L187.44,561.7 L187.59,562.26 L187.74,562.81 L187.88,563.37 L188.03,563.92 L188.18,564.48 L188.33,565.03 L188.48,565.59 L188.63,566.14 L188.79,566.69 L188.94,567.25 L189.09,567.8 L189.24,568.35 L189.4,568.91 L189.55,569.46 L189.71,570.01 L189.86,570.57 L190.02,571.12 L190.18,571.67 L190.33,572.22 L190.49,572.77 L190.65,573.32 L190.81,573.87 L190.97,574.42 L191.14,574.97 L191.3,575.52 L191.47,576.07 L191.63,576.61 L191.8,577.16 L191.97,577.71 L192.14,578.26 L192.31,578.8 L192.48,579.35 L192.65,579.89 L192.82,580.43 L193,580.98 L193.18,581.52 L193.36,582.06 L193.54,582.6 L193.72,583.14 L193.9,583.68 L194.08,584.22 L194.27,584.76 L194.46,585.3 L194.65,585.84 L194.84,586.37 L195.03,586.91 L195.22,587.44 L195.42,587.97 L195.62,588.51 L195.82,589.04 L196.02,589.57 L196.22,590.1 L196.43,590.63 L196.64,591.16 L196.85,591.68 L197.06,592.21 L197.27,592.73 L197.49,593.26 L197.7,593.78 L197.92,594.3 L198.15,594.82 L198.37,595.34 L198.6,595.86 L198.82,596.38 L199.06,596.9 L199.29,597.41 L199.53,597.92 L199.76,598.44 L200,598.95 L200.25,599.46 L200.49,599.97 L200.74,600.47 L200.99,600.98 L201.25,601.49 L201.5,601.99 L201.76,602.49 L202.02,602.99 L202.29,603.49 L202.55,603.99 L202.82,604.49 L203.1,604.98 L203.37,605.48 L203.65,605.97 L203.93,606.46 L204.22,606.95 L204.5,607.44 L204.8,607.92 L205.09,608.41 L205.39,608.89 L205.69,609.37 L205.99,609.85 L206.29,610.33 L206.6,610.81 L206.92,611.28 L207.23,611.76 L207.55,612.23 L207.88,612.7 L208.2,613.17 L208.53,613.63 L208.86,614.1 L209.2,614.56 L209.54,615.02 L209.88,615.48 L210.23,615.94 L210.58,616.39 L210.94,616.85 L211.3,617.3 L211.66,617.75 L212.02,618.2 L212.39,618.64 L212.77,619.09 L213.14,619.53 L213.52,619.96 L213.91,620.4 L214.29,620.83 L214.68,621.26 L215.08,621.69 L215.48,622.11 L215.88,622.54 L216.28,622.95 L216.69,623.37 L217.1,623.78 L217.52,624.19 L217.93,624.59 L218.36,624.99 L218.78,625.38 L219.21,625.77 L219.64,626.16 L220.07,626.54 L220.51,626.92 L220.95,627.3 L221.39,627.67 L221.84,628.03 L222.29,628.39 L222.74,628.74 L223.2,629.09 L223.66,629.44 L224.12,629.78 L224.58,630.11 L225.05,630.44 L225.52,630.76 L226,631.08 L226.47,631.39 L226.95,631.69 L227.43,631.99 L227.92,632.28 L228.4,632.57 L228.89,632.85 L229.39,633.12 L229.88,633.39 L230.38,633.65 L230.88,633.9 L231.38,634.14 L231.89,634.38 L232.4,634.61 L232.91,634.84 L233.42,635.05 L233.94,635.26 L234.45,635.46 L234.98,635.65 L235.5,635.84 L236.02,636.02 L236.55,636.19 L237.08,636.35 L237.61,636.5 L238.15,636.64 L238.68,636.78 L239.22,636.9 L239.76,637.02 L240.31,637.13 L240.85,637.24 L241.4,637.33 L241.95,637.42 L242.5,637.5 L243.05,637.57 L243.6,637.63 L244.16,637.69 L244.72,637.74 L245.27,637.78 L245.83,637.81 L246.39,637.84 L246.96,637.86 L247.52,637.87 L248.09,637.88 L248.65,637.88 L249.22,637.87 L249.79,637.86 L250.35,637.84 L250.92,637.81 L251.49,637.78 L252.06,637.75 L252.64,637.7 L253.21,637.65 L253.78,637.6 L254.35,637.54 L254.93,637.47 L255.5,637.4 L256.07,637.32 L256.65,637.24 L257.22,637.15 L257.8,637.06 L258.37,636.96 L258.94,636.86 L259.52,636.75 L260.09,636.64 L260.67,636.52 L261.24,636.4 L261.81,636.27 L262.38,636.14 L262.96,636.01 L263.53,635.87 L264.1,635.73 L264.67,635.59 L265.24,635.44 L265.81,635.28 L266.37,635.13 L266.94,634.97 L267.51,634.8 L268.07,634.64 L268.63,634.47 L269.2,634.3 L269.76,634.12 L270.32,633.94 L270.87,633.76 L271.43,633.58 L271.99,633.39 L272.54,633.2 L273.09,633.01 L273.64,632.82 L274.19,632.62 L274.74,632.43 L275.28,632.23 L275.82,632.03 L276.37,631.82 L276.9,631.62 L277.44,631.41 L277.97,631.21 L278.51,631 L279.04,630.79 L279.56,630.58 L280.09,630.37 L280.61,630.15 L281.13,629.94 L281.65,629.72 L282.16,629.51 L282.67,629.29 L283.18,629.08 L283.69,628.86 L284.19,628.64 L284.69,628.42 L285.19,628.2 L285.69,627.98 L286.18,627.75 L286.68,627.53 L287.17,627.3 L287.66,627.07 L288.15,626.83 L288.63,626.59 L289.12,626.35 L289.61,626.11 L290.09,625.86 L290.57,625.6 L291.06,625.35 L291.54,625.09 L292.02,624.82 L292.5,624.55 L292.98,624.27 L293.46,623.99 L293.94,623.71 L294.42,623.41 L294.9,623.12 L295.39,622.81 L295.87,622.5 L296.35,622.19 L296.83,621.87 L297.31,621.54 L297.78,621.21 L298.26,620.87 L298.73,620.53 L299.21,620.18 L299.68,619.83 L300.14,619.47 L300.61,619.11 L301.07,618.74 L301.53,618.37 L301.99,617.99 L302.44,617.61 L302.89,617.22 L303.33,616.83 L303.77,616.44 L304.21,616.04 L304.64,615.64 L305.07,615.23 L305.49,614.82 L305.9,614.4 L306.31,613.98 L306.72,613.56 L307.11,613.14 L307.51,612.71 L307.89,612.27 L308.27,611.83 L308.64,611.39 L309,610.95 L309.36,610.5 L309.71,610.05 L310.05,609.6 L310.39,609.14 L310.72,608.68 L311.04,608.22 L311.36,607.76 L311.68,607.29 L311.98,606.82 L312.29,606.35 L312.58,605.87 L312.88,605.4 L313.17,604.92 L313.45,604.44 L313.73,603.96 L314.01,603.47 L314.28,602.98 L314.56,602.5 L314.82,602.01 L315.09,601.52 L315.35,601.02 L315.61,600.53 L315.87,600.04 L316.13,599.54 L316.39,599.04 L316.64,598.55 L316.9,598.05 L317.15,597.55 L317.41,597.05 L317.66,596.55 L317.91,596.05 L318.17,595.55 L318.42,595.04 L318.68,594.54 L318.93,594.04 L319.19,593.54 L319.45,593.04 L319.71,592.54 L319.98,592.04 L320.24,591.54 L320.51,591.04 L320.78,590.54 L321.06,590.04 L321.33,589.54 L321.61,589.04 L321.9,588.55 L322.19,588.05 L322.48,587.56 L322.77,587.06 L323.07,586.57 L323.37,586.08 L323.67,585.59 L323.98,585.09 L324.29,584.6 L324.59,584.11 L324.9,583.63 L325.22,583.14 L325.53,582.65 L325.84,582.16 L326.15,581.67 L326.47,581.19 L326.78,580.7 L327.09,580.21 L327.4,579.73 L327.72,579.24 L328.03,578.75 L328.34,578.27 L328.64,577.78 L328.95,577.29 L329.25,576.81 L329.56,576.32 L329.86,575.83 L330.15,575.35 L330.45,574.86 L330.75,574.37 L331.04,573.89 L331.33,573.4 L331.62,572.91 L331.91,572.42 L332.2,571.93 L332.49,571.45 L332.77,570.96 L333.06,570.47 L333.34,569.98 L333.62,569.49 L333.9,569 L334.18,568.51 L334.46,568.02 L334.74,567.53 L335.02,567.04 L335.29,566.55 L335.57,566.06 L335.84,565.57 L336.12,565.08 L336.39,564.59 L336.67,564.1 L336.94,563.6 L337.21,563.11 L337.48,562.62 L337.76,562.12 L338.03,561.63 L338.3,561.14 L338.57,560.64 L338.84,560.15 L339.12,559.65 L339.39,559.16 L339.66,558.66 L339.93,558.16 L340.2,557.67 L340.48,557.17 L340.75,556.67 L341.02,556.17 L341.29,555.67 L341.57,555.17 L341.84,554.67 L342.12,554.17 L342.39,553.67 L342.67,553.17 L342.95,552.67 L343.23,552.17 L343.51,551.66 L343.79,551.16 L344.07,550.66 L344.35,550.15 L344.63,549.65 L344.92,549.14 L345.2,548.64 L345.49,548.13 L345.78,547.62 L346.07,547.11 L346.36,546.61 L346.65,546.1 L346.94,545.59 L347.24,545.08 L347.54,544.57 L347.84,544.07 L348.15,543.56 L348.46,543.07 L348.77,542.58 L349.1,542.1 L349.42,541.62 L349.76,541.16 L350.1,540.7 L350.45,540.26 L350.81,539.82 L351.18,539.41 L351.56,539 L351.94,538.61 L352.34,538.24 L352.75,537.89 L353.17,537.55 L353.61,537.24 L354.06,536.94 L354.52,536.67 L355,536.42 L355.49,536.2 L355.99,536 L356.51,535.82 L357.04,535.67 L357.58,535.55 L358.13,535.46 L358.68,535.39 L359.24,535.35 L359.81,535.35 L360.37,535.37 L360.94,535.42 L361.5,535.49 L362.07,535.6 L362.63,535.72 L363.19,535.88 L363.74,536.05 L364.29,536.25 L364.83,536.47 L365.36,536.72 L365.88,536.98 L366.39,537.26 L366.89,537.56 L367.38,537.88 L367.85,538.22 L368.31,538.57 L368.75,538.93 L369.17,539.31 L369.57,539.71 L369.96,540.11 L370.33,540.53 L370.69,540.96 L371.04,541.4 L371.37,541.84 L371.7,542.3 L372.01,542.77 L372.32,543.24 L372.61,543.72 L372.9,544.2 L373.18,544.69 L373.46,545.19 L373.73,545.69 L374,546.19 L374.27,546.69 L374.54,547.19 L374.81,547.7 L375.07,548.2 L375.34,548.71 L375.61,549.21 L375.88,549.72 L376.14,550.22 L376.41,550.73 L376.68,551.23 L376.95,551.74 L377.22,552.24 L377.49,552.75 L377.76,553.25 L378.03,553.76 L378.3,554.26 L378.57,554.77 L378.84,555.28 L379.11,555.78 L379.38,556.29 L379.64,556.8 L379.91,557.3 L380.18,557.81 L380.45,558.32 L380.72,558.82 L380.99,559.33 L381.26,559.84 L381.53,560.35 L381.8,560.85 L382.06,561.36 L382.33,561.87 L382.6,562.38 L382.87,562.89 L383.13,563.4 L383.4,563.91 L383.66,564.42 L383.93,564.92 L384.2,565.43 L384.46,565.94 L384.72,566.45 L384.99,566.96 L385.25,567.47 L385.51,567.98 L385.78,568.5 L386.04,569.01 L386.3,569.52 L386.56,570.03 L386.82,570.54 L387.08,571.05 L387.33,571.56 L387.59,572.08 L387.85,572.59 L388.1,573.1 L388.36,573.62 L388.61,574.13 L388.87,574.64 L389.12,575.16 L389.37,575.67 L389.62,576.18 L389.87,576.7 L390.12,577.21 L390.37,577.73 L390.61,578.24 L390.86,578.76 L391.1,579.27 L391.35,579.79 L391.59,580.31 L391.83,580.82 L392.07,581.34 L392.31,581.86 L392.55,582.38 L392.78,582.89 L393.02,583.41 L393.25,583.93 L393.49,584.45 L393.72,584.97 L393.95,585.49 L394.18,586.01 L394.41,586.52 L394.64,587.04 L394.87,587.56 L395.09,588.08 L395.32,588.6 L395.55,589.12 L395.77,589.64 L396,590.16 L396.23,590.68 L396.45,591.2 L396.68,591.72 L396.9,592.24 L397.13,592.76 L397.35,593.28 L397.58,593.8 L397.8,594.32 L398.03,594.83 L398.25,595.35 L398.48,595.87 L398.71,596.39 L398.94,596.91 L399.16,597.42 L399.39,597.94 L399.62,598.46 L399.85,598.97 L400.09,599.49 L400.32,600 L400.55,600.52 L400.79,601.03 L401.02,601.55 L401.26,602.06 L401.5,602.57 L401.74,603.08 L401.98,603.6 L402.23,604.11 L402.47,604.62 L402.72,605.13 L402.97,605.64 L403.22,606.14 L403.47,606.65 L403.72,607.16 L403.98,607.66 L404.24,608.17 L404.5,608.67 L404.76,609.18 L405.02,609.68 L405.29,610.18 L405.56,610.68 L405.83,611.18 L406.11,611.68 L406.38,612.18 L406.66,612.67 L406.95,613.17 L407.23,613.66 L407.52,614.16 L407.81,614.65 L408.11,615.14 L408.41,615.63 L408.71,616.12 L409.01,616.61 L409.32,617.1 L409.63,617.58 L409.94,618.06 L410.26,618.55 L410.57,619.03 L410.9,619.51 L411.22,619.98 L411.55,620.46 L411.88,620.93 L412.21,621.41 L412.55,621.88 L412.89,622.35 L413.23,622.81 L413.58,623.28 L413.92,623.74 L414.27,624.2 L414.63,624.66 L414.98,625.12 L415.34,625.57 L415.71,626.02 L416.07,626.47 L416.44,626.92 L416.81,627.37 L417.18,627.81 L417.56,628.25 L417.94,628.69 L418.32,629.13 L418.7,629.56 L419.09,629.99 L419.48,630.42 L419.87,630.84 L420.27,631.26 L420.66,631.68 L421.06,632.1 L421.47,632.51 L421.87,632.92 L422.28,633.33 L422.69,633.73 L423.1,634.13 L423.52,634.53 L423.94,634.93 L424.36,635.32 L424.78,635.71 L425.21,636.09 L425.64,636.47 L426.07,636.85 L426.5,637.22 L426.94,637.59 L427.37,637.96 L427.81,638.33 L428.26,638.68 L428.7,639.04 L429.15,639.39 L429.6,639.74 L430.06,640.09 L430.51,640.43 L430.97,640.76 L431.43,641.09 L431.89,641.42 L432.36,641.75 L432.82,642.07 L433.29,642.38 L433.76,642.69 L434.24,643 L434.72,643.3 L435.19,643.6 L435.67,643.9 L436.16,644.19 L436.64,644.47 L437.13,644.75 L437.62,645.03 L438.11,645.3 L438.61,645.56 L439.1,645.83 L439.6,646.08 L440.1,646.34 L440.61,646.59 L441.11,646.83 L441.62,647.07 L442.13,647.3 L442.64,647.54 L443.15,647.76 L443.66,647.99 L444.18,648.2 L444.7,648.42 L445.22,648.63 L445.74,648.84 L446.26,649.04 L446.79,649.24 L447.31,649.43 L447.84,649.62 L448.37,649.81 L448.91,649.99 L449.44,650.17 L449.97,650.35 L450.51,650.52 L451.05,650.69 L451.59,650.86 L452.13,651.02 L452.67,651.18 L453.22,651.33 L453.76,651.48 L454.31,651.63 L454.85,651.77 L455.4,651.91 L455.95,652.05 L456.51,652.19 L457.06,652.32 L457.61,652.44 L458.17,652.57 L458.72,652.69 L459.28,652.81 L459.84,652.93 L460.4,653.04 L460.96,653.15 L461.52,653.26 L462.08,653.36 L462.65,653.46 L463.21,653.56 L463.78,653.66 L464.34,653.75 L464.91,653.84 L465.48,653.93 L466.05,654.01 L466.62,654.09 L467.19,654.17 L467.76,654.25 L468.33,654.33 L468.9,654.4 L469.47,654.47 L470.05,654.54 L470.62,654.61 L471.2,654.67 L471.77,654.73 L472.35,654.79 L472.92,654.85 L473.5,654.9 L474.07,654.96 L474.65,655.01 L475.23,655.06 L475.81,655.1 L476.38,655.15 L476.96,655.19 L477.54,655.23 L478.12,655.27 L478.7,655.31 L479.28,655.35 L479.86,655.38 L480.43,655.42 L481.01,655.45 L481.59,655.48 L482.17,655.51 L482.75,655.53 L483.33,655.56 L483.91,655.58 L484.49,655.61 L485.07,655.63 L485.65,655.65 L486.23,655.67 L486.8,655.69 L487.38,655.7 L487.96,655.72 L488.54,655.73 L489.11,655.75 L489.69,655.76 L490.27,655.77 L490.84,655.78 L491.42,655.79 L492,655.8 L492.57,655.81 L493.14,655.82 L493.72,655.82 L494.29,655.83 L494.86,655.84 L495.44,655.84 L496.01,655.84 L496.58,655.85 L497.15,655.85 L497.72,655.85 L498.29,655.86 L498.86,655.86 L499.42,655.86 L499.99,655.86 L500.55,655.86 L501.12,655.86 L501.68,655.86 L502.24,655.86 L502.81,655.87 L503.37,655.87 L503.93,655.87 L504.49,655.87 L505.04,655.87 L505.6,655.87 L506.15,655.87 L506.71,655.87 L507.26,655.87 L507.81,655.87 L508.36,655.87 L508.91,655.87 L509.46,655.88 L510.01,655.88 L510.55,655.88 L511.1,655.89 L511.64,655.89 L512.18,655.89 L512.72,655.9 L513.26,655.91" fill="none" stroke="#000" stroke-width="1.25" stroke-linejoin="round" stroke-dasharray="3.2,1.8" stroke-linecap="butt"/>
<path d="M19.46,656.63 L20.08,656.64 L20.7,656.66 L21.32,656.67 L21.94,656.68 L22.56,656.69 L23.18,656.7 L23.8,656.71 L24.42,656.72 L25.03,656.73 L25.65,656.74 L26.27,656.74 L26.88,656.75 L27.5,656.76 L28.11,656.76 L28.73,656.77 L29.34,656.77 L29.96,656.77 L30.57,656.78 L31.18,656.78 L31.8,656.78 L32.41,656.78 L33.02,656.78 L33.63,656.78 L34.24,656.78 L34.86,656.78 L35.47,656.78 L36.08,656.78 L36.69,656.78 L37.3,656.78 L37.91,656.78 L38.52,656.77 L39.13,656.77 L39.74,656.77 L40.35,656.76 L40.96,656.76 L41.57,656.75 L42.18,656.75 L42.79,656.74 L43.4,656.74 L44,656.73 L44.61,656.73 L45.22,656.72 L45.83,656.71 L46.44,656.71 L47.05,656.7 L47.66,656.69 L48.27,656.69 L48.88,656.68 L49.49,656.67 L50.1,656.66 L50.71,656.65 L51.32,656.65 L51.92,656.64 L52.53,656.63 L53.14,656.62 L53.75,656.61 L54.36,656.61 L54.98,656.6 L55.59,656.59 L56.2,656.58 L56.81,656.57 L57.42,656.56 L58.03,656.56 L58.64,656.55 L59.25,656.54 L59.87,656.53 L60.48,656.52 L61.09,656.52 L61.71,656.51 L62.32,656.5 L62.93,656.49 L63.55,656.49 L64.16,656.48 L64.78,656.47 L65.39,656.47 L66.01,656.46 L66.62,656.45 L67.24,656.45 L67.86,656.44 L68.48,656.43 L69.1,656.43 L69.71,656.42 L70.33,656.42 L70.95,656.41 L71.57,656.41 L72.19,656.4 L72.81,656.4 L73.43,656.39 L74.05,656.38 L74.68,656.37 L75.3,656.36 L75.92,656.34 L76.54,656.33 L77.15,656.31 L77.77,656.28 L78.39,656.26 L79.01,656.23 L79.62,656.19 L80.24,656.16 L80.85,656.11 L81.47,656.06 L82.08,656.01 L82.69,655.95 L83.3,655.89 L83.91,655.82 L84.51,655.74 L85.12,655.66 L85.72,655.56 L86.32,655.47 L86.92,655.36 L87.52,655.25 L88.11,655.12 L88.7,654.99 L89.29,654.86 L89.88,654.71 L90.46,654.55 L91.05,654.38 L91.63,654.2 L92.2,654.02 L92.78,653.82 L93.35,653.61 L93.91,653.39 L94.48,653.16 L95.03,652.93 L95.59,652.68 L96.14,652.42 L96.68,652.15 L97.22,651.87 L97.75,651.59 L98.28,651.29 L98.8,650.98 L99.31,650.67 L99.82,650.34 L100.32,650.01 L100.81,649.66 L101.29,649.31 L101.77,648.94 L102.24,648.57 L102.7,648.19 L103.15,647.8 L103.59,647.4 L104.03,646.99 L104.45,646.57 L104.87,646.14 L105.27,645.71 L105.67,645.26 L106.07,644.81 L106.45,644.35 L106.82,643.89 L107.19,643.41 L107.55,642.93 L107.9,642.44 L108.25,641.95 L108.59,641.45 L108.92,640.94 L109.24,640.43 L109.56,639.91 L109.87,639.39 L110.17,638.86 L110.47,638.33 L110.76,637.79 L111.04,637.24 L111.32,636.7 L111.59,636.14 L111.86,635.59 L112.12,635.03 L112.37,634.46 L112.62,633.89 L112.86,633.32 L113.1,632.75 L113.34,632.17 L113.56,631.59 L113.79,631.01 L114.01,630.43 L114.22,629.84 L114.43,629.25 L114.63,628.67 L114.83,628.08 L115.03,627.48 L115.22,626.89 L115.41,626.3 L115.6,625.71 L115.78,625.11 L115.95,624.52 L116.13,623.92 L116.3,623.33 L116.47,622.73 L116.63,622.14 L116.79,621.54 L116.95,620.95 L117.1,620.35 L117.25,619.75 L117.4,619.16 L117.54,618.56 L117.68,617.96 L117.82,617.37 L117.96,616.77 L118.09,616.17 L118.22,615.57 L118.35,614.97 L118.47,614.38 L118.6,613.78 L118.72,613.18 L118.83,612.58 L118.95,611.98 L119.06,611.38 L119.17,610.78 L119.28,610.18 L119.38,609.58 L119.49,608.98 L119.59,608.37 L119.69,607.77 L119.78,607.17 L119.88,606.57 L119.97,605.97 L120.06,605.37 L120.15,604.76 L120.24,604.16 L120.33,603.56 L120.41,602.96 L120.49,602.35 L120.58,601.75 L120.66,601.15 L120.74,600.54 L120.81,599.94 L120.89,599.33 L120.96,598.73 L121.04,598.13 L121.11,597.52 L121.18,596.92 L121.25,596.31 L121.32,595.71 L121.39,595.1 L121.46,594.5 L121.52,593.89 L121.59,593.29 L121.66,592.68 L121.72,592.08 L121.79,591.47 L121.85,590.86 L121.91,590.26 L121.98,589.65 L122.04,589.04 L122.1,588.44 L122.16,587.83 L122.23,587.23 L122.29,586.62 L122.35,586.01 L122.41,585.4 L122.47,584.8 L122.53,584.19 L122.6,583.58 L122.66,582.98 L122.72,582.37 L122.78,581.76 L122.85,581.15 L122.91,580.55 L122.97,579.94 L123.04,579.33 L123.1,578.72 L123.17,578.11 L123.23,577.51 L123.3,576.9 L123.37,576.29 L123.43,575.68 L123.5,575.07 L123.57,574.47 L123.63,573.86 L123.7,573.25 L123.77,572.64 L123.84,572.03 L123.91,571.42 L123.98,570.81 L124.05,570.21 L124.12,569.6 L124.19,568.99 L124.26,568.38 L124.33,567.77 L124.4,567.16 L124.47,566.55 L124.55,565.94 L124.62,565.33 L124.69,564.73 L124.76,564.12 L124.84,563.51 L124.91,562.9 L124.98,562.29 L125.06,561.68 L125.13,561.07 L125.21,560.46 L125.28,559.85 L125.36,559.24 L125.43,558.63 L125.51,558.02 L125.58,557.41 L125.66,556.81 L125.74,556.2 L125.81,555.59 L125.89,554.98 L125.97,554.37 L126.04,553.76 L126.12,553.15 L126.2,552.54 L126.28,551.93 L126.36,551.32 L126.43,550.71 L126.51,550.1 L126.59,549.49 L126.67,548.88 L126.75,548.27 L126.83,547.66 L126.91,547.05 L126.99,546.45 L127.07,545.84 L127.15,545.23 L127.23,544.62 L127.31,544.01 L127.39,543.4 L127.47,542.79 L127.55,542.18 L127.63,541.57 L127.71,540.96 L127.79,540.35 L127.87,539.74 L127.95,539.13 L128.03,538.52 L128.11,537.92 L128.19,537.31 L128.28,536.7 L128.36,536.09 L128.44,535.48 L128.52,534.87 L128.6,534.26 L128.68,533.65 L128.77,533.04 L128.85,532.44 L128.93,531.83 L129.01,531.22 L129.09,530.61 L129.17,530 L129.26,529.39 L129.34,528.78 L129.42,528.18 L129.5,527.57 L129.59,526.96 L129.67,526.35 L129.75,525.74 L129.83,525.13 L129.91,524.53 L130,523.92 L130.08,523.31 L130.16,522.7 L130.24,522.09 L130.32,521.49 L130.41,520.88 L130.49,520.27 L130.57,519.66 L130.65,519.06 L130.73,518.45 L130.82,517.84 L130.9,517.24 L130.98,516.63 L131.06,516.02 L131.14,515.41 L131.22,514.81 L131.31,514.2 L131.39,513.59 L131.47,512.99 L131.55,512.38 L131.63,511.77 L131.71,511.17 L131.79,510.56 L131.87,509.96 L131.95,509.35 L132.03,508.74 L132.12,508.14 L132.2,507.53 L132.28,506.93 L132.36,506.32 L132.44,505.72 L132.51,505.11 L132.59,504.51 L132.67,503.9 L132.75,503.3 L132.83,502.69 L132.91,502.09 L132.99,501.48 L133.07,500.88 L133.15,500.27 L133.23,499.67 L133.3,499.06 L133.38,498.46 L133.46,497.86 L133.54,497.25 L133.62,496.65 L133.7,496.04 L133.77,495.44 L133.85,494.84 L133.93,494.23 L134.01,493.63 L134.09,493.03 L134.17,492.42 L134.25,491.82 L134.33,491.22 L134.41,490.61 L134.49,490.01 L134.57,489.41 L134.65,488.8 L134.73,488.2 L134.81,487.6 L134.89,486.99 L134.97,486.39 L135.06,485.79 L135.14,485.19 L135.22,484.58 L135.31,483.98 L135.39,483.38 L135.47,482.77 L135.56,482.17 L135.65,481.57 L135.73,480.96 L135.82,480.36 L135.91,479.76 L135.99,479.15 L136.08,478.55 L136.17,477.95 L136.26,477.34 L136.35,476.74 L136.44,476.14 L136.53,475.53 L136.63,474.93 L136.72,474.33 L136.82,473.72 L136.91,473.12 L137.01,472.51 L137.1,471.91 L137.2,471.31 L137.3,470.7 L137.4,470.1 L137.5,469.49 L137.6,468.89 L137.7,468.29 L137.81,467.68 L137.91,467.08 L138.02,466.47 L138.12,465.87 L138.23,465.26 L138.34,464.66 L138.45,464.05 L138.56,463.44 L138.67,462.84 L138.78,462.23 L138.9,461.63 L139.01,461.02 L139.13,460.41 L139.25,459.81 L139.37,459.2 L139.49,458.59 L139.61,457.99 L139.73,457.38 L139.86,456.77 L139.99,456.17 L140.11,455.56 L140.24,454.95 L140.37,454.34 L140.5,453.73 L140.64,453.13 L140.77,452.52 L140.91,451.91 L141.05,451.3 L141.18,450.69 L141.33,450.08 L141.47,449.47 L141.61,448.86 L141.76,448.25 L141.91,447.64 L142.05,447.03 L142.21,446.42 L142.36,445.81 L142.51,445.2 L142.67,444.58 L142.83,443.97 L142.99,443.36 L143.16,442.75 L143.34,442.15 L143.53,441.54 L143.73,440.95 L143.94,440.35 L144.17,439.76 L144.41,439.18 L144.68,438.6 L144.96,438.04 L145.26,437.49 L145.57,436.96 L145.9,436.46 L146.24,436 L146.59,435.57 L146.94,435.2 L147.31,434.87 L147.68,434.6 L148.06,434.4 L148.44,434.26 L148.82,434.2 L149.2,434.22 L149.58,434.31 L149.96,434.48 L150.33,434.71 L150.7,435 L151.07,435.34 L151.43,435.73 L151.78,436.16 L152.12,436.64 L152.46,437.15 L152.78,437.68 L153.09,438.24 L153.39,438.81 L153.68,439.4 L153.95,440 L154.22,440.61 L154.47,441.23 L154.71,441.85 L154.95,442.48 L155.17,443.11 L155.39,443.75 L155.6,444.38 L155.81,445.01 L156.01,445.64 L156.21,446.27 L156.41,446.89 L156.6,447.51 L156.78,448.13 L156.97,448.74 L157.15,449.36 L157.33,449.96 L157.5,450.57 L157.67,451.18 L157.84,451.78 L158,452.38 L158.17,452.98 L158.33,453.58 L158.49,454.17 L158.64,454.77 L158.8,455.36 L158.95,455.95 L159.1,456.54 L159.25,457.13 L159.4,457.72 L159.55,458.31 L159.69,458.9 L159.84,459.48 L159.98,460.07 L160.13,460.66 L160.27,461.24 L160.41,461.83 L160.56,462.41 L160.7,463 L160.84,463.59 L160.98,464.17 L161.13,464.76 L161.27,465.35 L161.41,465.93 L161.55,466.52 L161.7,467.11 L161.84,467.7 L161.98,468.28 L162.12,468.87 L162.26,469.46 L162.41,470.05 L162.55,470.64 L162.69,471.23 L162.83,471.82 L162.98,472.41 L163.12,473 L163.26,473.59 L163.4,474.18 L163.54,474.77 L163.69,475.36 L163.83,475.95 L163.97,476.54 L164.11,477.13 L164.25,477.72 L164.39,478.31 L164.54,478.91 L164.68,479.5 L164.82,480.09 L164.96,480.68 L165.1,481.28 L165.24,481.87 L165.38,482.46 L165.53,483.05 L165.67,483.65 L165.81,484.24 L165.95,484.83 L166.09,485.43 L166.23,486.02 L166.37,486.62 L166.51,487.21 L166.65,487.81 L166.79,488.4 L166.93,488.99 L167.07,489.59 L167.21,490.18 L167.35,490.78 L167.49,491.37 L167.63,491.97 L167.77,492.57 L167.91,493.16 L168.05,493.76 L168.19,494.35 L168.33,494.95 L168.47,495.55 L168.61,496.14 L168.75,496.74 L168.88,497.34 L169.02,497.93 L169.16,498.53 L169.3,499.13 L169.44,499.72 L169.58,500.32 L169.71,500.92 L169.85,501.51 L169.99,502.11 L170.13,502.71 L170.26,503.31 L170.4,503.91 L170.54,504.5 L170.67,505.1 L170.81,505.7 L170.95,506.3 L171.08,506.9 L171.22,507.49 L171.36,508.09 L171.49,508.69 L171.63,509.29 L171.76,509.89 L171.9,510.49 L172.03,511.09 L172.17,511.69 L172.3,512.28 L172.44,512.88 L172.57,513.48 L172.7,514.08 L172.84,514.68 L172.97,515.28 L173.11,515.88 L173.24,516.48 L173.37,517.08 L173.5,517.68 L173.64,518.28 L173.77,518.88 L173.9,519.48 L174.03,520.08 L174.17,520.68 L174.3,521.27 L174.43,521.87 L174.56,522.47 L174.69,523.07 L174.82,523.67 L174.95,524.27 L175.08,524.87 L175.21,525.47 L175.34,526.07 L175.47,526.67 L175.6,527.27 L175.73,527.87 L175.86,528.47 L175.99,529.07 L176.11,529.67 L176.24,530.27 L176.37,530.87 L176.5,531.47 L176.63,532.07 L176.76,532.67 L176.88,533.27 L177.01,533.87 L177.14,534.47 L177.27,535.07 L177.39,535.67 L177.52,536.27 L177.65,536.87 L177.78,537.47 L177.91,538.07 L178.04,538.67 L178.16,539.27 L178.29,539.87 L178.42,540.46 L178.55,541.06 L178.68,541.66 L178.81,542.26 L178.94,542.86 L179.07,543.46 L179.2,544.06 L179.33,544.65 L179.46,545.25 L179.6,545.85 L179.73,546.45 L179.86,547.05 L179.99,547.64 L180.13,548.24 L180.26,548.84 L180.39,549.43 L180.53,550.03 L180.66,550.63 L180.8,551.22 L180.94,551.82 L181.07,552.42 L181.21,553.01 L181.35,553.61 L181.49,554.2 L181.63,554.8 L181.77,555.39 L181.91,555.99 L182.05,556.58 L182.19,557.18 L182.34,557.77 L182.48,558.36 L182.62,558.96 L182.77,559.55 L182.92,560.14 L183.06,560.74 L183.21,561.33 L183.36,561.92 L183.51,562.51 L183.66,563.1 L183.81,563.7 L183.97,564.29 L184.12,564.88 L184.27,565.47 L184.43,566.06 L184.59,566.65 L184.74,567.24 L184.9,567.83 L185.06,568.42 L185.22,569.01 L185.39,569.59 L185.55,570.18 L185.71,570.77 L185.88,571.36 L186.05,571.94 L186.21,572.53 L186.38,573.12 L186.55,573.7 L186.73,574.29 L186.9,574.87 L187.07,575.46 L187.25,576.04 L187.43,576.63 L187.61,577.21 L187.79,577.79 L187.97,578.38 L188.15,578.96 L188.33,579.54 L188.52,580.12 L188.71,580.7 L188.9,581.28 L189.09,581.86 L189.28,582.44 L189.47,583.02 L189.67,583.6 L189.87,584.18 L190.06,584.76 L190.26,585.33 L190.47,585.91 L190.67,586.49 L190.88,587.06 L191.08,587.64 L191.29,588.21 L191.5,588.79 L191.71,589.36 L191.93,589.94 L192.14,590.51 L192.36,591.08 L192.58,591.65 L192.8,592.23 L193.03,592.8 L193.25,593.37 L193.48,593.94 L193.71,594.51 L193.94,595.08 L194.17,595.64 L194.41,596.21 L194.65,596.78 L194.89,597.35 L195.13,597.91 L195.37,598.48 L195.62,599.04 L195.86,599.61 L196.11,600.17 L196.37,600.73 L196.62,601.3 L196.88,601.86 L197.14,602.42 L197.4,602.98 L197.66,603.54 L197.93,604.1 L198.2,604.66 L198.47,605.21 L198.74,605.77 L199.01,606.32 L199.29,606.88 L199.57,607.43 L199.86,607.98 L200.14,608.53 L200.43,609.08 L200.72,609.62 L201.02,610.17 L201.32,610.71 L201.62,611.25 L201.92,611.79 L202.23,612.32 L202.54,612.86 L202.85,613.39 L203.16,613.92 L203.48,614.45 L203.8,614.97 L204.13,615.5 L204.46,616.02 L204.79,616.53 L205.12,617.05 L205.46,617.56 L205.8,618.07 L206.15,618.58 L206.5,619.08 L206.85,619.58 L207.2,620.08 L207.56,620.57 L207.93,621.06 L208.29,621.55 L208.66,622.03 L209.04,622.51 L209.41,622.99 L209.8,623.46 L210.18,623.93 L210.57,624.39 L210.96,624.86 L211.36,625.31 L211.76,625.77 L212.17,626.22 L212.58,626.66 L212.99,627.1 L213.41,627.54 L213.83,627.97 L214.26,628.39 L214.69,628.82 L215.13,629.23 L215.57,629.65 L216.01,630.06 L216.46,630.46 L216.91,630.86 L217.37,631.25 L217.84,631.64 L218.3,632.02 L218.77,632.4 L219.25,632.77 L219.73,633.14 L220.22,633.5 L220.71,633.85 L221.2,634.2 L221.7,634.55 L222.21,634.89 L222.71,635.23 L223.23,635.56 L223.74,635.88 L224.26,636.2 L224.78,636.52 L225.31,636.83 L225.84,637.14 L226.37,637.44 L226.91,637.73 L227.45,638.03 L227.99,638.31 L228.53,638.6 L229.08,638.88 L229.63,639.15 L230.19,639.42 L230.74,639.68 L231.3,639.95 L231.86,640.2 L232.43,640.46 L232.99,640.7 L233.56,640.95 L234.13,641.19 L234.7,641.43 L235.27,641.66 L235.85,641.89 L236.42,642.11 L237,642.34 L237.58,642.55 L238.16,642.77 L238.74,642.98 L239.32,643.18 L239.9,643.39 L240.49,643.59 L241.07,643.78 L241.66,643.98 L242.24,644.17 L242.83,644.35 L243.42,644.54 L244.01,644.71 L244.6,644.89 L245.19,645.06 L245.78,645.23 L246.37,645.4 L246.96,645.56 L247.56,645.72 L248.15,645.88 L248.75,646.03 L249.34,646.18 L249.94,646.33 L250.53,646.47 L251.13,646.61 L251.73,646.75 L252.33,646.88 L252.93,647.01 L253.53,647.14 L254.13,647.27 L254.73,647.39 L255.33,647.51 L255.93,647.62 L256.53,647.74 L257.14,647.85 L257.74,647.95 L258.34,648.06 L258.95,648.16 L259.55,648.26 L260.16,648.35 L260.76,648.44 L261.37,648.53 L261.97,648.62 L262.58,648.71 L263.19,648.79 L263.79,648.87 L264.4,648.94 L265.01,649.01 L265.62,649.09 L266.22,649.15 L266.83,649.22 L267.44,649.28 L268.05,649.34 L268.66,649.4 L269.27,649.45 L269.88,649.51 L270.49,649.56 L271.1,649.6 L271.71,649.65 L272.32,649.69 L272.93,649.73 L273.54,649.77 L274.15,649.8 L274.76,649.84 L275.37,649.87 L275.98,649.89 L276.59,649.92 L277.2,649.94 L277.81,649.96 L278.42,649.98 L279.03,650 L279.64,650.01 L280.25,650.02 L280.86,650.03 L281.47,650.04 L282.08,650.05 L282.69,650.05 L283.3,650.05 L283.91,650.05 L284.52,650.05 L285.13,650.04 L285.74,650.03 L286.35,650.02 L286.95,650.01 L287.56,650 L288.17,649.98 L288.78,649.97 L289.39,649.95 L290,649.93 L290.6,649.9 L291.21,649.88 L291.82,649.85 L292.43,649.82 L293.03,649.79 L293.64,649.76 L294.25,649.72 L294.86,649.69 L295.46,649.65 L296.07,649.61 L296.68,649.57 L297.29,649.52 L297.89,649.48 L298.5,649.43 L299.11,649.38 L299.71,649.33 L300.32,649.28 L300.93,649.23 L301.53,649.17 L302.14,649.11 L302.75,649.06 L303.36,649 L303.96,648.93 L304.57,648.87 L305.18,648.81 L305.78,648.74 L306.39,648.67 L307,648.6 L307.6,648.53 L308.21,648.46 L308.82,648.39 L309.42,648.31 L310.03,648.23 L310.64,648.16 L311.25,648.08 L311.85,648 L312.46,647.92 L313.07,647.83 L313.67,647.75 L314.28,647.66 L314.89,647.57 L315.5,647.49 L316.11,647.4 L316.71,647.31 L317.32,647.21 L317.93,647.12 L318.54,647.03 L319.15,646.93 L319.75,646.83 L320.36,646.74 L320.97,646.64 L321.58,646.54 L322.19,646.44 L322.8,646.33 L323.41,646.23 L324.02,646.13 L324.62,646.02 L325.23,645.92 L325.84,645.81 L326.45,645.7 L327.06,645.59 L327.67,645.48 L328.28,645.37 L328.89,645.26 L329.5,645.14 L330.11,645.03 L330.72,644.91 L331.33,644.8 L331.94,644.68 L332.55,644.56 L333.16,644.43 L333.77,644.31 L334.38,644.18 L334.98,644.06 L335.59,643.93 L336.2,643.8 L336.8,643.66 L337.41,643.53 L338.01,643.39 L338.61,643.25 L339.21,643.11 L339.81,642.96 L340.41,642.82 L341.01,642.67 L341.61,642.52 L342.21,642.36 L342.8,642.2 L343.4,642.04 L343.99,641.88 L344.58,641.72 L345.17,641.55 L345.76,641.38 L346.35,641.2 L346.94,641.03 L347.52,640.85 L348.1,640.66 L348.68,640.47 L349.26,640.28 L349.84,640.09 L350.42,639.89 L350.99,639.69 L351.56,639.49 L352.13,639.28 L352.7,639.07 L353.27,638.85 L353.83,638.63 L354.39,638.41 L354.95,638.18 L355.51,637.95 L356.06,637.71 L356.61,637.47 L357.16,637.23 L357.71,636.98 L358.25,636.73 L358.79,636.47 L359.33,636.21 L359.87,635.94 L360.4,635.67 L360.93,635.4 L361.46,635.12 L361.99,634.83 L362.51,634.54 L363.03,634.25 L363.54,633.95 L364.05,633.64 L364.56,633.33 L365.07,633.01 L365.57,632.69 L366.07,632.37 L366.57,632.04 L367.06,631.7 L367.55,631.36 L368.04,631.01 L368.52,630.65 L369,630.29 L369.47,629.93 L369.94,629.56 L370.41,629.18 L370.87,628.8 L371.33,628.41 L371.79,628.02 L372.24,627.62 L372.69,627.21 L373.14,626.8 L373.58,626.39 L374.02,625.97 L374.45,625.54 L374.88,625.11 L375.31,624.68 L375.73,624.24 L376.15,623.8 L376.56,623.35 L376.97,622.9 L377.38,622.44 L377.78,621.98 L378.18,621.51 L378.58,621.04 L378.97,620.57 L379.36,620.09 L379.74,619.61 L380.12,619.12 L380.5,618.63 L380.87,618.14 L381.24,617.64 L381.61,617.14 L381.97,616.64 L382.33,616.13 L382.68,615.62 L383.03,615.11 L383.37,614.59 L383.72,614.08 L384.05,613.55 L384.39,613.03 L384.72,612.5 L385.05,611.97 L385.37,611.44 L385.69,610.9 L386,610.36 L386.31,609.82 L386.62,609.28 L386.92,608.73 L387.22,608.19 L387.52,607.64 L387.81,607.09 L388.09,606.53 L388.38,605.98 L388.66,605.42 L388.93,604.86 L389.2,604.31 L389.47,603.74 L389.73,603.18 L389.99,602.62 L390.25,602.05 L390.5,601.49 L390.75,600.92 L390.99,600.35 L391.23,599.78 L391.47,599.21 L391.7,598.64 L391.93,598.07 L392.15,597.5 L392.38,596.93 L392.6,596.35 L392.81,595.78 L393.03,595.21 L393.24,594.63 L393.45,594.06 L393.66,593.48 L393.87,592.91 L394.08,592.34 L394.28,591.76 L394.49,591.19 L394.69,590.61 L394.9,590.04 L395.1,589.47 L395.3,588.89 L395.51,588.32 L395.71,587.75 L395.91,587.18 L396.12,586.61 L396.32,586.04 L396.53,585.47 L396.74,584.9 L396.94,584.34 L397.15,583.77 L397.37,583.21 L397.58,582.65 L397.8,582.08 L398.02,581.52 L398.24,580.97 L398.46,580.41 L398.69,579.85 L398.92,579.3 L399.16,578.75 L399.39,578.2 L399.64,577.65 L399.88,577.1 L400.13,576.56 L400.38,576.02 L400.64,575.48 L400.91,574.94 L401.18,574.4 L401.45,573.87 L401.73,573.34 L402.01,572.81 L402.3,572.28 L402.6,571.76 L402.9,571.24 L403.21,570.72 L403.53,570.21 L403.85,569.7 L404.18,569.19 L404.52,568.68 L404.86,568.18 L405.21,567.68 L405.57,567.19 L405.94,566.69 L406.32,566.2 L406.7,565.72 L407.09,565.24 L407.5,564.76 L407.91,564.29 L408.33,563.81 L408.75,563.35 L409.19,562.89 L409.64,562.43 L410.1,561.97 L410.57,561.52 L411.05,561.08 L411.54,560.63 L412.04,560.2 L412.54,559.77 L413.06,559.36 L413.59,558.96 L414.12,558.58 L414.66,558.23 L415.21,557.9 L415.76,557.6 L416.31,557.33 L416.87,557.1 L417.43,556.91 L417.99,556.77 L418.56,556.67 L419.12,556.61 L419.69,556.61 L420.25,556.67 L420.81,556.76 L421.37,556.91 L421.92,557.09 L422.46,557.32 L423,557.57 L423.53,557.87 L424.05,558.19 L424.56,558.53 L425.06,558.91 L425.55,559.3 L426.02,559.71 L426.48,560.13 L426.92,560.57 L427.35,561.02 L427.77,561.48 L428.17,561.95 L428.55,562.43 L428.93,562.93 L429.29,563.43 L429.65,563.94 L429.99,564.46 L430.32,564.99 L430.64,565.52 L430.96,566.06 L431.26,566.61 L431.56,567.16 L431.85,567.72 L432.14,568.28 L432.42,568.85 L432.69,569.42 L432.96,569.99 L433.23,570.56 L433.49,571.14 L433.75,571.72 L434.01,572.29 L434.27,572.87 L434.53,573.45 L434.78,574.02 L435.04,574.59 L435.29,575.16 L435.55,575.73 L435.81,576.3 L436.07,576.86 L436.34,577.42 L436.6,577.97 L436.87,578.53 L437.13,579.08 L437.4,579.63 L437.67,580.18 L437.94,580.72 L438.21,581.27 L438.48,581.81 L438.75,582.35 L439.02,582.89 L439.3,583.43 L439.57,583.97 L439.84,584.5 L440.12,585.04 L440.39,585.57 L440.67,586.1 L440.95,586.64 L441.22,587.17 L441.5,587.7 L441.77,588.23 L442.05,588.76 L442.33,589.29 L442.6,589.82 L442.88,590.35 L443.15,590.89 L443.43,591.42 L443.71,591.95 L443.98,592.48 L444.26,593.02 L444.53,593.55 L444.8,594.09 L445.08,594.62 L445.35,595.16 L445.62,595.7 L445.89,596.24 L446.16,596.78 L446.43,597.33 L446.7,597.87 L446.96,598.42 L447.23,598.97 L447.5,599.52 L447.76,600.07 L448.02,600.63 L448.29,601.18 L448.55,601.74 L448.81,602.3 L449.07,602.86 L449.33,603.42 L449.59,603.98 L449.85,604.54 L450.11,605.11 L450.37,605.67 L450.63,606.24 L450.89,606.8 L451.15,607.37 L451.41,607.93 L451.68,608.5 L451.94,609.07 L452.2,609.64 L452.46,610.2 L452.72,610.77 L452.99,611.34 L453.25,611.9 L453.51,612.47 L453.78,613.04 L454.05,613.6 L454.31,614.17 L454.58,614.74 L454.85,615.3 L455.12,615.86 L455.4,616.43 L455.67,616.99 L455.94,617.55 L456.22,618.11 L456.5,618.67 L456.78,619.23 L457.06,619.78 L457.34,620.34 L457.63,620.89 L457.92,621.44 L458.2,621.99 L458.5,622.54 L458.79,623.08 L459.09,623.63 L459.38,624.17 L459.68,624.71 L459.99,625.25 L460.29,625.78 L460.6,626.32 L460.91,626.85 L461.22,627.37 L461.54,627.9 L461.86,628.42 L462.18,628.94 L462.51,629.46 L462.84,629.97 L463.17,630.48 L463.5,630.99 L463.84,631.5 L464.18,632 L464.53,632.49 L464.88,632.99 L465.23,633.48 L465.58,633.97 L465.94,634.45 L466.31,634.93 L466.67,635.4 L467.05,635.87 L467.42,636.34 L467.8,636.8 L468.18,637.26 L468.57,637.72 L468.97,638.17 L469.36,638.61 L469.76,639.05 L470.17,639.49 L470.58,639.92 L471,640.35 L471.42,640.77 L471.84,641.18 L472.27,641.59 L472.71,642 L473.15,642.4 L473.59,642.8 L474.04,643.19 L474.5,643.57 L474.96,643.95 L475.43,644.32 L475.9,644.69 L476.38,645.05 L476.86,645.4 L477.35,645.75 L477.85,646.09 L478.35,646.43 L478.86,646.76 L479.37,647.08 L479.89,647.4 L480.41,647.71 L480.94,648.02 L481.47,648.32 L482.01,648.61 L482.56,648.9 L483.11,649.18 L483.66,649.45 L484.22,649.72 L484.78,649.98 L485.35,650.24 L485.92,650.49 L486.49,650.73 L487.07,650.97 L487.65,651.2 L488.23,651.43 L488.82,651.65 L489.41,651.87 L490,652.08 L490.59,652.28 L491.19,652.48 L491.79,652.67 L492.39,652.86 L492.99,653.04 L493.59,653.22 L494.2,653.39 L494.81,653.56 L495.41,653.72 L496.02,653.87 L496.63,654.02 L497.24,654.17 L497.85,654.31 L498.47,654.44 L499.08,654.57 L499.69,654.69 L500.3,654.81 L500.91,654.92 L501.52,655.03 L502.13,655.13 L502.74,655.23 L503.35,655.32 L503.95,655.41 L504.56,655.5 L505.16,655.57 L505.77,655.65 L506.37,655.72 L506.96,655.78 L507.56,655.84 L508.15,655.89 L508.74,655.94 L509.33,655.99 L509.92,656.03 L510.5,656.07 L511.08,656.1 L511.65,656.12 L512.23,656.15 L512.8,656.16 L513.36,656.18" fill="none" stroke="#000" stroke-width="2.8" stroke-linejoin="round"  stroke-linecap="butt"/>
<line x1="121.5" y1="421.5" x2="141.65" y2="430.72" stroke="#000" stroke-width="1.2" />
<path d="M146.2,432.8 L139.75,432.49 L141.74,428.12 Z" fill="#000"/>
<line x1="119" y1="450" x2="152.02" y2="466.38" stroke="#000" stroke-width="1.2" />
<path d="M156.5,468.6 L150.06,468.08 L152.19,463.78 Z" fill="#000"/>
<line x1="183" y1="425.5" x2="171.52" y2="438.46" stroke="#000" stroke-width="1.2" />
<path d="M168.2,442.2 L170.38,436.12 L173.98,439.3 Z" fill="#000"/>
<line x1="184" y1="453.5" x2="171.82" y2="469.61" stroke="#000" stroke-width="1.2" />
<path d="M168.8,473.6 L170.5,467.37 L174.33,470.26 Z" fill="#000"/>
<line x1="381" y1="477.5" x2="361.15" y2="488.74" stroke="#000" stroke-width="1.2" />
<path d="M356.8,491.2 L360.84,486.16 L363.2,490.33 Z" fill="#000"/>
<line x1="395" y1="520" x2="367.9" y2="529.89" stroke="#000" stroke-width="1.2" />
<path d="M363.2,531.6 L368.01,527.29 L369.66,531.8 Z" fill="#000"/>
<line x1="445.5" y1="545" x2="426.03" y2="552.92" stroke="#000" stroke-width="1.2" />
<path d="M421.4,554.8 L426.05,550.32 L427.86,554.76 Z" fill="#000"/>
<text x="88.5" y="421.9" font-size="13.4" text-anchor="start" font-weight="bold" stroke="#000" stroke-width="0.3" textLength="32.7" lengthAdjust="spacingAndGlyphs">12.06</text>
<text x="85.4" y="450.8" font-size="13.4" text-anchor="start" font-weight="bold" stroke="#000" stroke-width="0.3" textLength="32.3" lengthAdjust="spacingAndGlyphs">12.22</text>
<text x="182.3" y="422.5" font-size="13.4" text-anchor="start" font-weight="bold" stroke="#000" stroke-width="0.3" textLength="31.5" lengthAdjust="spacingAndGlyphs">12.33</text>
<text x="182.8" y="450.8" font-size="13.4" text-anchor="start" font-weight="bold" stroke="#000" stroke-width="0.3" textLength="32.3" lengthAdjust="spacingAndGlyphs">12.34</text>
<text x="382.7" y="478.1" font-size="13.4" text-anchor="start" font-weight="bold" stroke="#000" stroke-width="0.3" textLength="24.6" lengthAdjust="spacingAndGlyphs">15.4</text>
<text x="396.2" y="519.7" font-size="13.4" text-anchor="start" font-weight="bold" stroke="#000" stroke-width="0.3" textLength="25.2" lengthAdjust="spacingAndGlyphs">15.5</text>
<text x="446.8" y="544.9" font-size="13.4" text-anchor="start" font-weight="bold" stroke="#000" stroke-width="0.3" textLength="25.2" lengthAdjust="spacingAndGlyphs">16.5</text>
<line x1="247.3" y1="413.9" x2="266" y2="413.9" stroke="#000" stroke-width="2.8" />
<line x1="247.3" y1="428" x2="266" y2="428" stroke="#000" stroke-width="1.3" stroke-dasharray="2.2,1.6"/>
<line x1="247.3" y1="442.4" x2="266" y2="442.4" stroke="#000" stroke-width="1.2" />
<line x1="247.3" y1="457.8" x2="266" y2="457.8" stroke="#555" stroke-width="1.3" stroke-dasharray="2.2,1.6"/>
<text x="270.6" y="417.4" font-size="11.3" text-anchor="start" font-weight="bold" stroke="#000" stroke-width="0.3" textLength="238.3" lengthAdjust="spacingAndGlyphs">αIIbβ3 + Fab + Quinine + Quinine in buffer</text>
<text x="270.6" y="431.85" font-size="11.3" text-anchor="start" font-weight="bold" stroke="#000" stroke-width="0.3" textLength="238.3" lengthAdjust="spacingAndGlyphs">αIIbβ3 + Fab + Quinine – Quinine in buffer</text>
<text x="270.6" y="446.3" font-size="11.3" text-anchor="start" font-weight="bold" stroke="#000" stroke-width="0.3" textLength="69.5" lengthAdjust="spacingAndGlyphs">αIIbβ3 + Fab</text>
<text x="270.6" y="460.75" font-size="11.3" text-anchor="start" font-weight="bold" stroke="#000" stroke-width="0.3" textLength="69.3" lengthAdjust="spacingAndGlyphs">αIIbβ3 alone</text>
</svg>
</body></html>
